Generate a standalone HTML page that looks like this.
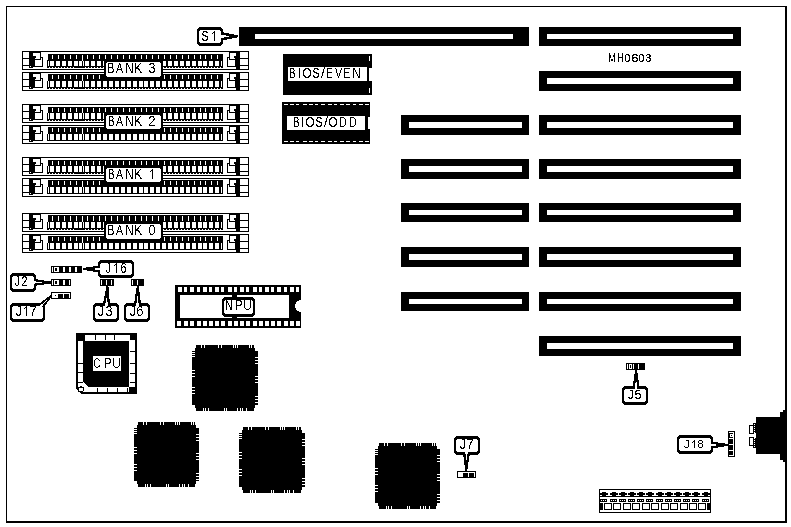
<!DOCTYPE html>
<html><head><meta charset="utf-8"><style>
html,body{margin:0;padding:0;background:#fff;}
body{width:791px;height:527px;overflow:hidden;}
svg{display:block;}
text{font-family:"Liberation Sans",sans-serif;fill:#000;-webkit-font-smoothing:antialiased;}
svg{will-change:transform;}
</style></head><body>
<svg width="791" height="527" viewBox="0 0 791 527" shape-rendering="crispEdges">
<defs><filter id="th" x="-20%" y="-20%" width="140%" height="140%"><feComponentTransfer><feFuncA type="discrete" tableValues="0 1"/></feComponentTransfer></filter><filter id="th2" x="-20%" y="-20%" width="140%" height="140%"><feComponentTransfer><feFuncA type="discrete" tableValues="0 1 1"/></feComponentTransfer></filter></defs>
<rect x="0" y="0" width="791" height="527" fill="#fff"/>
<rect x="6" y="6" width="781" height="1"/>
<rect x="6" y="6" width="1" height="517"/>
<rect x="785" y="6" width="2" height="517"/>
<rect x="6" y="521" width="781" height="2"/>
<rect x="539" y="27" width="202" height="19"/>
<rect x="547" y="34" width="186" height="5" fill="#fff"/>
<rect x="539" y="71" width="202" height="20"/>
<rect x="547" y="78" width="186" height="6" fill="#fff"/>
<rect x="539" y="115" width="202" height="20"/>
<rect x="547" y="122" width="186" height="6" fill="#fff"/>
<rect x="401" y="115" width="128" height="20"/>
<rect x="409" y="122" width="113" height="6" fill="#fff"/>
<rect x="539" y="159" width="202" height="20"/>
<rect x="547" y="166" width="186" height="6" fill="#fff"/>
<rect x="401" y="159" width="128" height="20"/>
<rect x="409" y="166" width="113" height="6" fill="#fff"/>
<rect x="539" y="203" width="202" height="19"/>
<rect x="547" y="210" width="186" height="5" fill="#fff"/>
<rect x="401" y="203" width="128" height="19"/>
<rect x="409" y="210" width="113" height="5" fill="#fff"/>
<rect x="539" y="247" width="202" height="20"/>
<rect x="547" y="254" width="186" height="6" fill="#fff"/>
<rect x="401" y="247" width="128" height="20"/>
<rect x="409" y="254" width="113" height="6" fill="#fff"/>
<rect x="539" y="292" width="202" height="19"/>
<rect x="547" y="299" width="186" height="5" fill="#fff"/>
<rect x="401" y="292" width="128" height="19"/>
<rect x="409" y="299" width="113" height="5" fill="#fff"/>
<rect x="539" y="336" width="202" height="20"/>
<rect x="547" y="343" width="186" height="6" fill="#fff"/>
<rect x="239" y="27" width="290" height="19"/>
<rect x="255" y="34" width="258" height="5" fill="#fff"/>
<text transform="translate(608.26,62) scale(0.686,1)" font-size="13.08" filter="url(#th)">M</text>
<text transform="translate(617.27,62) scale(0.684,1)" font-size="13.08" filter="url(#th)">H</text>
<text transform="translate(624.59,62) scale(1.043,1)" font-size="10.03" filter="url(#th2)">0</text>
<text transform="translate(631.34,62) scale(1.298,1)" font-size="10.03" filter="url(#th2)">6</text>
<text transform="translate(638.59,62) scale(1.043,1)" font-size="10.03" filter="url(#th2)">0</text>
<text transform="translate(645.60,62) scale(1.052,1)" font-size="10.03" filter="url(#th2)">3</text>
<rect x="283" y="54" width="89" height="41"/>
<rect x="288" y="67" width="79" height="14" fill="#fff"/>
<rect x="369" y="68" width="3" height="13" fill="#fff"/>
<rect x="369" y="56" width="1" height="5" fill="#fff"/>
<rect x="369" y="88" width="1" height="5" fill="#fff"/>
<text transform="translate(289.23,78) scale(0.647,1)" font-size="14.53" filter="url(#th)">B</text>
<text transform="translate(298.02,78) scale(0.732,1)" font-size="14.53" filter="url(#th)">I</text>
<text transform="translate(302.45,78) scale(0.818,1)" font-size="14.33" filter="url(#th)">O</text>
<text transform="translate(312.52,78) scale(0.728,1)" font-size="14.33" filter="url(#th)">S</text>
<text transform="translate(321.00,78) scale(0.990,1)" font-size="14.53" filter="url(#th)">/</text>
<text transform="translate(326.24,78) scale(0.635,1)" font-size="14.53" filter="url(#th)">E</text>
<text transform="translate(334.95,78) scale(0.733,1)" font-size="14.53" filter="url(#th)">V</text>
<text transform="translate(343.09,78) scale(0.762,1)" font-size="14.53" filter="url(#th)">E</text>
<text transform="translate(351.97,78) scale(0.862,1)" font-size="14.53" filter="url(#th)">N</text>
<rect x="282" y="102" width="88" height="42"/>
<rect x="287" y="116" width="78" height="14" fill="#fff"/>
<rect x="368" y="117" width="2" height="12" fill="#fff"/>
<rect x="284" y="104" width="4" height="1" fill="#fff"/>
<rect x="284" y="141" width="4" height="1" fill="#fff"/>
<rect x="290" y="104" width="4" height="1" fill="#fff"/>
<rect x="290" y="141" width="4" height="1" fill="#fff"/>
<rect x="296" y="104" width="3" height="1" fill="#fff"/>
<rect x="296" y="141" width="3" height="1" fill="#fff"/>
<rect x="303" y="104" width="4" height="1" fill="#fff"/>
<rect x="303" y="141" width="4" height="1" fill="#fff"/>
<rect x="309" y="104" width="4" height="1" fill="#fff"/>
<rect x="309" y="141" width="4" height="1" fill="#fff"/>
<rect x="315" y="104" width="3" height="1" fill="#fff"/>
<rect x="315" y="141" width="3" height="1" fill="#fff"/>
<rect x="321" y="104" width="4" height="1" fill="#fff"/>
<rect x="321" y="141" width="4" height="1" fill="#fff"/>
<rect x="328" y="104" width="4" height="1" fill="#fff"/>
<rect x="328" y="141" width="4" height="1" fill="#fff"/>
<rect x="334" y="104" width="3" height="1" fill="#fff"/>
<rect x="334" y="141" width="3" height="1" fill="#fff"/>
<rect x="340" y="104" width="4" height="1" fill="#fff"/>
<rect x="340" y="141" width="4" height="1" fill="#fff"/>
<rect x="346" y="104" width="4" height="1" fill="#fff"/>
<rect x="346" y="141" width="4" height="1" fill="#fff"/>
<rect x="353" y="104" width="3" height="1" fill="#fff"/>
<rect x="353" y="141" width="3" height="1" fill="#fff"/>
<rect x="359" y="104" width="4" height="1" fill="#fff"/>
<rect x="359" y="141" width="4" height="1" fill="#fff"/>
<rect x="365" y="104" width="4" height="1" fill="#fff"/>
<rect x="365" y="141" width="4" height="1" fill="#fff"/>
<text transform="translate(293.23,127) scale(0.647,1)" font-size="14.53" filter="url(#th)">B</text>
<text transform="translate(301.02,127) scale(0.732,1)" font-size="14.53" filter="url(#th)">I</text>
<text transform="translate(305.45,127) scale(0.818,1)" font-size="14.33" filter="url(#th)">O</text>
<text transform="translate(315.52,127) scale(0.728,1)" font-size="14.33" filter="url(#th)">S</text>
<text transform="translate(324.00,127) scale(0.990,1)" font-size="14.53" filter="url(#th)">/</text>
<text transform="translate(328.45,127) scale(0.818,1)" font-size="14.33" filter="url(#th)">O</text>
<text transform="translate(339.17,127) scale(0.697,1)" font-size="14.53" filter="url(#th)">D</text>
<text transform="translate(349.17,127) scale(0.697,1)" font-size="14.53" filter="url(#th)">D</text>
<rect x="22" y="51" width="227" height="1"/>
<rect x="22" y="69" width="227" height="1"/>
<rect x="22" y="51" width="1" height="19"/>
<rect x="248" y="51" width="1" height="19"/>
<rect x="23" y="58" width="6" height="1"/>
<rect x="23" y="65" width="6" height="1"/>
<rect x="29" y="52" width="4" height="16"/>
<rect x="30" y="66" width="1" height="1" fill="#fff"/>
<rect x="30" y="68" width="3" height="1" fill="#fff"/>
<rect x="33" y="52" width="8" height="1"/>
<rect x="40" y="52" width="1" height="8"/>
<rect x="33" y="56" width="2" height="11"/>
<rect x="35" y="56" width="1" height="2"/>
<rect x="35" y="59" width="6" height="1"/>
<rect x="40" y="57" width="3" height="1"/>
<rect x="42" y="57" width="1" height="10"/>
<rect x="33" y="66" width="10" height="1"/>
<rect x="30" y="67" width="3" height="1"/>
<rect x="240" y="58" width="8" height="1"/>
<rect x="240" y="65" width="8" height="1"/>
<rect x="236" y="52" width="4" height="17"/>
<rect x="229" y="52" width="7" height="1"/>
<rect x="229" y="52" width="1" height="8"/>
<rect x="234" y="56" width="2" height="2"/>
<rect x="227" y="57" width="3" height="1"/>
<rect x="227" y="57" width="1" height="10"/>
<rect x="229" y="59" width="6" height="1"/>
<rect x="235" y="58" width="1" height="9"/>
<rect x="227" y="66" width="9" height="1"/>
<rect x="48" y="54" width="175" height="6"/>
<rect x="47" y="60" width="176" height="8"/>
<rect x="48" y="61" width="1" height="5" fill="#fff"/>
<rect x="221" y="61" width="1" height="5" fill="#fff"/>
<rect x="50" y="61" width="4" height="5" fill="#fff"/>
<rect x="52" y="55" width="1" height="4" fill="#fff"/>
<rect x="56" y="61" width="4" height="5" fill="#fff"/>
<rect x="58" y="55" width="1" height="4" fill="#fff"/>
<rect x="62" y="61" width="4" height="5" fill="#fff"/>
<rect x="64" y="55" width="1" height="4" fill="#fff"/>
<rect x="68" y="61" width="4" height="5" fill="#fff"/>
<rect x="70" y="55" width="1" height="4" fill="#fff"/>
<rect x="74" y="61" width="4" height="5" fill="#fff"/>
<rect x="76" y="55" width="1" height="4" fill="#fff"/>
<rect x="80" y="61" width="4" height="5" fill="#fff"/>
<rect x="82" y="55" width="1" height="4" fill="#fff"/>
<rect x="85" y="61" width="4" height="5" fill="#fff"/>
<rect x="87" y="55" width="1" height="4" fill="#fff"/>
<rect x="91" y="61" width="4" height="5" fill="#fff"/>
<rect x="93" y="55" width="1" height="4" fill="#fff"/>
<rect x="97" y="61" width="4" height="5" fill="#fff"/>
<rect x="99" y="55" width="1" height="4" fill="#fff"/>
<rect x="103" y="61" width="4" height="5" fill="#fff"/>
<rect x="105" y="55" width="1" height="4" fill="#fff"/>
<rect x="109" y="61" width="4" height="5" fill="#fff"/>
<rect x="111" y="55" width="1" height="4" fill="#fff"/>
<rect x="115" y="61" width="4" height="5" fill="#fff"/>
<rect x="117" y="55" width="1" height="4" fill="#fff"/>
<rect x="121" y="61" width="4" height="5" fill="#fff"/>
<rect x="123" y="55" width="1" height="4" fill="#fff"/>
<rect x="127" y="61" width="4" height="5" fill="#fff"/>
<rect x="129" y="55" width="1" height="4" fill="#fff"/>
<rect x="133" y="61" width="4" height="5" fill="#fff"/>
<rect x="135" y="55" width="1" height="4" fill="#fff"/>
<rect x="139" y="61" width="4" height="5" fill="#fff"/>
<rect x="141" y="55" width="1" height="4" fill="#fff"/>
<rect x="144" y="61" width="4" height="5" fill="#fff"/>
<rect x="146" y="55" width="1" height="4" fill="#fff"/>
<rect x="150" y="61" width="4" height="5" fill="#fff"/>
<rect x="152" y="55" width="1" height="4" fill="#fff"/>
<rect x="156" y="61" width="4" height="5" fill="#fff"/>
<rect x="158" y="55" width="1" height="4" fill="#fff"/>
<rect x="162" y="61" width="4" height="5" fill="#fff"/>
<rect x="164" y="55" width="1" height="4" fill="#fff"/>
<rect x="168" y="61" width="4" height="5" fill="#fff"/>
<rect x="170" y="55" width="1" height="4" fill="#fff"/>
<rect x="174" y="61" width="4" height="5" fill="#fff"/>
<rect x="176" y="55" width="1" height="4" fill="#fff"/>
<rect x="180" y="61" width="4" height="5" fill="#fff"/>
<rect x="182" y="55" width="1" height="4" fill="#fff"/>
<rect x="186" y="61" width="4" height="5" fill="#fff"/>
<rect x="188" y="55" width="1" height="4" fill="#fff"/>
<rect x="192" y="61" width="4" height="5" fill="#fff"/>
<rect x="194" y="55" width="1" height="4" fill="#fff"/>
<rect x="198" y="61" width="4" height="5" fill="#fff"/>
<rect x="200" y="55" width="1" height="4" fill="#fff"/>
<rect x="203" y="61" width="4" height="5" fill="#fff"/>
<rect x="205" y="55" width="1" height="4" fill="#fff"/>
<rect x="209" y="61" width="4" height="5" fill="#fff"/>
<rect x="211" y="55" width="1" height="4" fill="#fff"/>
<rect x="215" y="61" width="4" height="5" fill="#fff"/>
<rect x="217" y="55" width="1" height="4" fill="#fff"/>
<rect x="49" y="67" width="1" height="1" fill="#fff"/>
<rect x="52" y="67" width="1" height="1" fill="#fff"/>
<rect x="55" y="67" width="1" height="1" fill="#fff"/>
<rect x="58" y="67" width="1" height="1" fill="#fff"/>
<rect x="61" y="67" width="1" height="1" fill="#fff"/>
<rect x="64" y="67" width="1" height="1" fill="#fff"/>
<rect x="67" y="67" width="1" height="1" fill="#fff"/>
<rect x="70" y="67" width="1" height="1" fill="#fff"/>
<rect x="73" y="67" width="1" height="1" fill="#fff"/>
<rect x="85" y="67" width="1" height="1" fill="#fff"/>
<rect x="88" y="67" width="1" height="1" fill="#fff"/>
<rect x="91" y="67" width="1" height="1" fill="#fff"/>
<rect x="94" y="67" width="1" height="1" fill="#fff"/>
<rect x="97" y="67" width="1" height="1" fill="#fff"/>
<rect x="100" y="67" width="1" height="1" fill="#fff"/>
<rect x="103" y="67" width="1" height="1" fill="#fff"/>
<rect x="106" y="67" width="1" height="1" fill="#fff"/>
<rect x="109" y="67" width="1" height="1" fill="#fff"/>
<rect x="112" y="67" width="1" height="1" fill="#fff"/>
<rect x="115" y="67" width="1" height="1" fill="#fff"/>
<rect x="118" y="67" width="1" height="1" fill="#fff"/>
<rect x="121" y="67" width="1" height="1" fill="#fff"/>
<rect x="124" y="67" width="1" height="1" fill="#fff"/>
<rect x="127" y="67" width="1" height="1" fill="#fff"/>
<rect x="130" y="67" width="1" height="1" fill="#fff"/>
<rect x="133" y="67" width="1" height="1" fill="#fff"/>
<rect x="136" y="67" width="1" height="1" fill="#fff"/>
<rect x="139" y="67" width="1" height="1" fill="#fff"/>
<rect x="142" y="67" width="1" height="1" fill="#fff"/>
<rect x="145" y="67" width="1" height="1" fill="#fff"/>
<rect x="148" y="67" width="1" height="1" fill="#fff"/>
<rect x="151" y="67" width="1" height="1" fill="#fff"/>
<rect x="154" y="67" width="1" height="1" fill="#fff"/>
<rect x="157" y="67" width="1" height="1" fill="#fff"/>
<rect x="160" y="67" width="1" height="1" fill="#fff"/>
<rect x="163" y="67" width="1" height="1" fill="#fff"/>
<rect x="166" y="67" width="1" height="1" fill="#fff"/>
<rect x="169" y="67" width="1" height="1" fill="#fff"/>
<rect x="172" y="67" width="1" height="1" fill="#fff"/>
<rect x="175" y="67" width="1" height="1" fill="#fff"/>
<rect x="178" y="67" width="1" height="1" fill="#fff"/>
<rect x="181" y="67" width="1" height="1" fill="#fff"/>
<rect x="184" y="67" width="1" height="1" fill="#fff"/>
<rect x="187" y="67" width="1" height="1" fill="#fff"/>
<rect x="190" y="67" width="1" height="1" fill="#fff"/>
<rect x="193" y="67" width="1" height="1" fill="#fff"/>
<rect x="196" y="67" width="1" height="1" fill="#fff"/>
<rect x="199" y="67" width="1" height="1" fill="#fff"/>
<rect x="202" y="67" width="1" height="1" fill="#fff"/>
<rect x="205" y="67" width="1" height="1" fill="#fff"/>
<rect x="208" y="67" width="1" height="1" fill="#fff"/>
<rect x="211" y="67" width="1" height="1" fill="#fff"/>
<rect x="214" y="67" width="1" height="1" fill="#fff"/>
<rect x="217" y="67" width="1" height="1" fill="#fff"/>
<rect x="220" y="67" width="1" height="1" fill="#fff"/>
<rect x="82" y="55" width="1" height="6" fill="#fff"/>
<rect x="82" y="61" width="1" height="6"/>
<rect x="79" y="61" width="1" height="5" fill="#fff"/>
<rect x="22" y="72" width="227" height="1"/>
<rect x="22" y="90" width="227" height="1"/>
<rect x="22" y="72" width="1" height="19"/>
<rect x="248" y="72" width="1" height="19"/>
<rect x="23" y="79" width="6" height="1"/>
<rect x="23" y="86" width="6" height="1"/>
<rect x="29" y="73" width="4" height="16"/>
<rect x="30" y="87" width="1" height="1" fill="#fff"/>
<rect x="30" y="89" width="3" height="1" fill="#fff"/>
<rect x="33" y="73" width="8" height="1"/>
<rect x="40" y="73" width="1" height="8"/>
<rect x="33" y="77" width="2" height="11"/>
<rect x="35" y="77" width="1" height="2"/>
<rect x="35" y="80" width="6" height="1"/>
<rect x="40" y="78" width="3" height="1"/>
<rect x="42" y="78" width="1" height="10"/>
<rect x="33" y="87" width="10" height="1"/>
<rect x="30" y="88" width="3" height="1"/>
<rect x="240" y="79" width="8" height="1"/>
<rect x="240" y="86" width="8" height="1"/>
<rect x="236" y="73" width="4" height="17"/>
<rect x="229" y="73" width="7" height="1"/>
<rect x="229" y="73" width="1" height="8"/>
<rect x="234" y="77" width="2" height="2"/>
<rect x="227" y="78" width="3" height="1"/>
<rect x="227" y="78" width="1" height="10"/>
<rect x="229" y="80" width="6" height="1"/>
<rect x="235" y="79" width="1" height="9"/>
<rect x="227" y="87" width="9" height="1"/>
<rect x="48" y="74" width="175" height="7"/>
<rect x="47" y="81" width="176" height="8"/>
<rect x="48" y="81" width="1" height="6" fill="#fff"/>
<rect x="221" y="81" width="1" height="6" fill="#fff"/>
<rect x="50" y="81" width="4" height="6" fill="#fff"/>
<rect x="52" y="75" width="1" height="4" fill="#fff"/>
<rect x="56" y="81" width="4" height="6" fill="#fff"/>
<rect x="58" y="75" width="1" height="4" fill="#fff"/>
<rect x="62" y="81" width="4" height="6" fill="#fff"/>
<rect x="64" y="75" width="1" height="4" fill="#fff"/>
<rect x="68" y="81" width="4" height="6" fill="#fff"/>
<rect x="70" y="75" width="1" height="4" fill="#fff"/>
<rect x="74" y="81" width="4" height="6" fill="#fff"/>
<rect x="76" y="75" width="1" height="4" fill="#fff"/>
<rect x="80" y="81" width="4" height="6" fill="#fff"/>
<rect x="82" y="75" width="1" height="4" fill="#fff"/>
<rect x="85" y="81" width="4" height="6" fill="#fff"/>
<rect x="87" y="75" width="1" height="4" fill="#fff"/>
<rect x="91" y="81" width="4" height="6" fill="#fff"/>
<rect x="93" y="75" width="1" height="4" fill="#fff"/>
<rect x="97" y="81" width="4" height="6" fill="#fff"/>
<rect x="99" y="75" width="1" height="4" fill="#fff"/>
<rect x="103" y="81" width="4" height="6" fill="#fff"/>
<rect x="105" y="75" width="1" height="4" fill="#fff"/>
<rect x="109" y="81" width="4" height="6" fill="#fff"/>
<rect x="111" y="75" width="1" height="4" fill="#fff"/>
<rect x="115" y="81" width="4" height="6" fill="#fff"/>
<rect x="117" y="75" width="1" height="4" fill="#fff"/>
<rect x="121" y="81" width="4" height="6" fill="#fff"/>
<rect x="123" y="75" width="1" height="4" fill="#fff"/>
<rect x="127" y="81" width="4" height="6" fill="#fff"/>
<rect x="129" y="75" width="1" height="4" fill="#fff"/>
<rect x="133" y="81" width="4" height="6" fill="#fff"/>
<rect x="135" y="75" width="1" height="4" fill="#fff"/>
<rect x="139" y="81" width="4" height="6" fill="#fff"/>
<rect x="141" y="75" width="1" height="4" fill="#fff"/>
<rect x="144" y="81" width="4" height="6" fill="#fff"/>
<rect x="146" y="75" width="1" height="4" fill="#fff"/>
<rect x="150" y="81" width="4" height="6" fill="#fff"/>
<rect x="152" y="75" width="1" height="4" fill="#fff"/>
<rect x="156" y="81" width="4" height="6" fill="#fff"/>
<rect x="158" y="75" width="1" height="4" fill="#fff"/>
<rect x="162" y="81" width="4" height="6" fill="#fff"/>
<rect x="164" y="75" width="1" height="4" fill="#fff"/>
<rect x="168" y="81" width="4" height="6" fill="#fff"/>
<rect x="170" y="75" width="1" height="4" fill="#fff"/>
<rect x="174" y="81" width="4" height="6" fill="#fff"/>
<rect x="176" y="75" width="1" height="4" fill="#fff"/>
<rect x="180" y="81" width="4" height="6" fill="#fff"/>
<rect x="182" y="75" width="1" height="4" fill="#fff"/>
<rect x="186" y="81" width="4" height="6" fill="#fff"/>
<rect x="188" y="75" width="1" height="4" fill="#fff"/>
<rect x="192" y="81" width="4" height="6" fill="#fff"/>
<rect x="194" y="75" width="1" height="4" fill="#fff"/>
<rect x="198" y="81" width="4" height="6" fill="#fff"/>
<rect x="200" y="75" width="1" height="4" fill="#fff"/>
<rect x="203" y="81" width="4" height="6" fill="#fff"/>
<rect x="205" y="75" width="1" height="4" fill="#fff"/>
<rect x="209" y="81" width="4" height="6" fill="#fff"/>
<rect x="211" y="75" width="1" height="4" fill="#fff"/>
<rect x="215" y="81" width="4" height="6" fill="#fff"/>
<rect x="217" y="75" width="1" height="4" fill="#fff"/>
<rect x="49" y="88" width="1" height="1" fill="#fff"/>
<rect x="52" y="88" width="1" height="1" fill="#fff"/>
<rect x="55" y="88" width="1" height="1" fill="#fff"/>
<rect x="58" y="88" width="1" height="1" fill="#fff"/>
<rect x="61" y="88" width="1" height="1" fill="#fff"/>
<rect x="64" y="88" width="1" height="1" fill="#fff"/>
<rect x="67" y="88" width="1" height="1" fill="#fff"/>
<rect x="70" y="88" width="1" height="1" fill="#fff"/>
<rect x="73" y="88" width="1" height="1" fill="#fff"/>
<rect x="85" y="88" width="1" height="1" fill="#fff"/>
<rect x="88" y="88" width="1" height="1" fill="#fff"/>
<rect x="91" y="88" width="1" height="1" fill="#fff"/>
<rect x="94" y="88" width="1" height="1" fill="#fff"/>
<rect x="97" y="88" width="1" height="1" fill="#fff"/>
<rect x="100" y="88" width="1" height="1" fill="#fff"/>
<rect x="103" y="88" width="1" height="1" fill="#fff"/>
<rect x="106" y="88" width="1" height="1" fill="#fff"/>
<rect x="109" y="88" width="1" height="1" fill="#fff"/>
<rect x="112" y="88" width="1" height="1" fill="#fff"/>
<rect x="115" y="88" width="1" height="1" fill="#fff"/>
<rect x="118" y="88" width="1" height="1" fill="#fff"/>
<rect x="121" y="88" width="1" height="1" fill="#fff"/>
<rect x="124" y="88" width="1" height="1" fill="#fff"/>
<rect x="127" y="88" width="1" height="1" fill="#fff"/>
<rect x="130" y="88" width="1" height="1" fill="#fff"/>
<rect x="133" y="88" width="1" height="1" fill="#fff"/>
<rect x="136" y="88" width="1" height="1" fill="#fff"/>
<rect x="139" y="88" width="1" height="1" fill="#fff"/>
<rect x="142" y="88" width="1" height="1" fill="#fff"/>
<rect x="145" y="88" width="1" height="1" fill="#fff"/>
<rect x="148" y="88" width="1" height="1" fill="#fff"/>
<rect x="151" y="88" width="1" height="1" fill="#fff"/>
<rect x="154" y="88" width="1" height="1" fill="#fff"/>
<rect x="157" y="88" width="1" height="1" fill="#fff"/>
<rect x="160" y="88" width="1" height="1" fill="#fff"/>
<rect x="163" y="88" width="1" height="1" fill="#fff"/>
<rect x="166" y="88" width="1" height="1" fill="#fff"/>
<rect x="169" y="88" width="1" height="1" fill="#fff"/>
<rect x="172" y="88" width="1" height="1" fill="#fff"/>
<rect x="175" y="88" width="1" height="1" fill="#fff"/>
<rect x="178" y="88" width="1" height="1" fill="#fff"/>
<rect x="181" y="88" width="1" height="1" fill="#fff"/>
<rect x="184" y="88" width="1" height="1" fill="#fff"/>
<rect x="187" y="88" width="1" height="1" fill="#fff"/>
<rect x="190" y="88" width="1" height="1" fill="#fff"/>
<rect x="193" y="88" width="1" height="1" fill="#fff"/>
<rect x="196" y="88" width="1" height="1" fill="#fff"/>
<rect x="199" y="88" width="1" height="1" fill="#fff"/>
<rect x="202" y="88" width="1" height="1" fill="#fff"/>
<rect x="205" y="88" width="1" height="1" fill="#fff"/>
<rect x="208" y="88" width="1" height="1" fill="#fff"/>
<rect x="211" y="88" width="1" height="1" fill="#fff"/>
<rect x="214" y="88" width="1" height="1" fill="#fff"/>
<rect x="217" y="88" width="1" height="1" fill="#fff"/>
<rect x="220" y="88" width="1" height="1" fill="#fff"/>
<rect x="82" y="75" width="1" height="6" fill="#fff"/>
<rect x="82" y="81" width="1" height="7"/>
<rect x="79" y="81" width="1" height="6" fill="#fff"/>
<rect x="104" y="60" width="59" height="19"/>
<rect x="106" y="62" width="55" height="15" fill="#fff"/>
<rect x="106" y="62" width="1" height="1"/>
<rect x="160" y="62" width="1" height="1"/>
<rect x="106" y="76" width="1" height="1"/>
<rect x="160" y="76" width="1" height="1"/>
<text transform="translate(107.08,73) scale(0.776,1)" font-size="14.53" filter="url(#th)">B</text>
<text transform="translate(115.98,73) scale(0.726,1)" font-size="14.53" filter="url(#th)">A</text>
<text transform="translate(124.97,73) scale(0.862,1)" font-size="14.53" filter="url(#th)">N</text>
<text transform="translate(134.00,73) scale(0.840,1)" font-size="14.53" filter="url(#th)">K</text>
<text transform="translate(148.52,73) scale(0.884,1)" font-size="14.33" filter="url(#th)">3</text>
<rect x="22" y="104" width="227" height="1"/>
<rect x="22" y="122" width="227" height="1"/>
<rect x="22" y="104" width="1" height="19"/>
<rect x="248" y="104" width="1" height="19"/>
<rect x="23" y="111" width="6" height="1"/>
<rect x="23" y="118" width="6" height="1"/>
<rect x="29" y="105" width="4" height="16"/>
<rect x="30" y="119" width="1" height="1" fill="#fff"/>
<rect x="30" y="121" width="3" height="1" fill="#fff"/>
<rect x="33" y="105" width="8" height="1"/>
<rect x="40" y="105" width="1" height="8"/>
<rect x="33" y="109" width="2" height="11"/>
<rect x="35" y="109" width="1" height="2"/>
<rect x="35" y="112" width="6" height="1"/>
<rect x="40" y="110" width="3" height="1"/>
<rect x="42" y="110" width="1" height="10"/>
<rect x="33" y="119" width="10" height="1"/>
<rect x="30" y="120" width="3" height="1"/>
<rect x="240" y="111" width="8" height="1"/>
<rect x="240" y="118" width="8" height="1"/>
<rect x="236" y="105" width="4" height="17"/>
<rect x="229" y="105" width="7" height="1"/>
<rect x="229" y="105" width="1" height="8"/>
<rect x="234" y="109" width="2" height="2"/>
<rect x="227" y="110" width="3" height="1"/>
<rect x="227" y="110" width="1" height="10"/>
<rect x="229" y="112" width="6" height="1"/>
<rect x="235" y="111" width="1" height="9"/>
<rect x="227" y="119" width="9" height="1"/>
<rect x="48" y="107" width="175" height="6"/>
<rect x="47" y="113" width="176" height="8"/>
<rect x="48" y="113" width="1" height="6" fill="#fff"/>
<rect x="221" y="113" width="1" height="6" fill="#fff"/>
<rect x="50" y="113" width="4" height="6" fill="#fff"/>
<rect x="52" y="108" width="1" height="4" fill="#fff"/>
<rect x="56" y="113" width="4" height="6" fill="#fff"/>
<rect x="58" y="108" width="1" height="4" fill="#fff"/>
<rect x="62" y="113" width="4" height="6" fill="#fff"/>
<rect x="64" y="108" width="1" height="4" fill="#fff"/>
<rect x="68" y="113" width="4" height="6" fill="#fff"/>
<rect x="70" y="108" width="1" height="4" fill="#fff"/>
<rect x="74" y="113" width="4" height="6" fill="#fff"/>
<rect x="76" y="108" width="1" height="4" fill="#fff"/>
<rect x="80" y="113" width="4" height="6" fill="#fff"/>
<rect x="82" y="108" width="1" height="4" fill="#fff"/>
<rect x="85" y="113" width="4" height="6" fill="#fff"/>
<rect x="87" y="108" width="1" height="4" fill="#fff"/>
<rect x="91" y="113" width="4" height="6" fill="#fff"/>
<rect x="93" y="108" width="1" height="4" fill="#fff"/>
<rect x="97" y="113" width="4" height="6" fill="#fff"/>
<rect x="99" y="108" width="1" height="4" fill="#fff"/>
<rect x="103" y="113" width="4" height="6" fill="#fff"/>
<rect x="105" y="108" width="1" height="4" fill="#fff"/>
<rect x="109" y="113" width="4" height="6" fill="#fff"/>
<rect x="111" y="108" width="1" height="4" fill="#fff"/>
<rect x="115" y="113" width="4" height="6" fill="#fff"/>
<rect x="117" y="108" width="1" height="4" fill="#fff"/>
<rect x="121" y="113" width="4" height="6" fill="#fff"/>
<rect x="123" y="108" width="1" height="4" fill="#fff"/>
<rect x="127" y="113" width="4" height="6" fill="#fff"/>
<rect x="129" y="108" width="1" height="4" fill="#fff"/>
<rect x="133" y="113" width="4" height="6" fill="#fff"/>
<rect x="135" y="108" width="1" height="4" fill="#fff"/>
<rect x="139" y="113" width="4" height="6" fill="#fff"/>
<rect x="141" y="108" width="1" height="4" fill="#fff"/>
<rect x="144" y="113" width="4" height="6" fill="#fff"/>
<rect x="146" y="108" width="1" height="4" fill="#fff"/>
<rect x="150" y="113" width="4" height="6" fill="#fff"/>
<rect x="152" y="108" width="1" height="4" fill="#fff"/>
<rect x="156" y="113" width="4" height="6" fill="#fff"/>
<rect x="158" y="108" width="1" height="4" fill="#fff"/>
<rect x="162" y="113" width="4" height="6" fill="#fff"/>
<rect x="164" y="108" width="1" height="4" fill="#fff"/>
<rect x="168" y="113" width="4" height="6" fill="#fff"/>
<rect x="170" y="108" width="1" height="4" fill="#fff"/>
<rect x="174" y="113" width="4" height="6" fill="#fff"/>
<rect x="176" y="108" width="1" height="4" fill="#fff"/>
<rect x="180" y="113" width="4" height="6" fill="#fff"/>
<rect x="182" y="108" width="1" height="4" fill="#fff"/>
<rect x="186" y="113" width="4" height="6" fill="#fff"/>
<rect x="188" y="108" width="1" height="4" fill="#fff"/>
<rect x="192" y="113" width="4" height="6" fill="#fff"/>
<rect x="194" y="108" width="1" height="4" fill="#fff"/>
<rect x="198" y="113" width="4" height="6" fill="#fff"/>
<rect x="200" y="108" width="1" height="4" fill="#fff"/>
<rect x="203" y="113" width="4" height="6" fill="#fff"/>
<rect x="205" y="108" width="1" height="4" fill="#fff"/>
<rect x="209" y="113" width="4" height="6" fill="#fff"/>
<rect x="211" y="108" width="1" height="4" fill="#fff"/>
<rect x="215" y="113" width="4" height="6" fill="#fff"/>
<rect x="217" y="108" width="1" height="4" fill="#fff"/>
<rect x="49" y="120" width="1" height="1" fill="#fff"/>
<rect x="52" y="120" width="1" height="1" fill="#fff"/>
<rect x="55" y="120" width="1" height="1" fill="#fff"/>
<rect x="58" y="120" width="1" height="1" fill="#fff"/>
<rect x="61" y="120" width="1" height="1" fill="#fff"/>
<rect x="64" y="120" width="1" height="1" fill="#fff"/>
<rect x="67" y="120" width="1" height="1" fill="#fff"/>
<rect x="70" y="120" width="1" height="1" fill="#fff"/>
<rect x="73" y="120" width="1" height="1" fill="#fff"/>
<rect x="85" y="120" width="1" height="1" fill="#fff"/>
<rect x="88" y="120" width="1" height="1" fill="#fff"/>
<rect x="91" y="120" width="1" height="1" fill="#fff"/>
<rect x="94" y="120" width="1" height="1" fill="#fff"/>
<rect x="97" y="120" width="1" height="1" fill="#fff"/>
<rect x="100" y="120" width="1" height="1" fill="#fff"/>
<rect x="103" y="120" width="1" height="1" fill="#fff"/>
<rect x="106" y="120" width="1" height="1" fill="#fff"/>
<rect x="109" y="120" width="1" height="1" fill="#fff"/>
<rect x="112" y="120" width="1" height="1" fill="#fff"/>
<rect x="115" y="120" width="1" height="1" fill="#fff"/>
<rect x="118" y="120" width="1" height="1" fill="#fff"/>
<rect x="121" y="120" width="1" height="1" fill="#fff"/>
<rect x="124" y="120" width="1" height="1" fill="#fff"/>
<rect x="127" y="120" width="1" height="1" fill="#fff"/>
<rect x="130" y="120" width="1" height="1" fill="#fff"/>
<rect x="133" y="120" width="1" height="1" fill="#fff"/>
<rect x="136" y="120" width="1" height="1" fill="#fff"/>
<rect x="139" y="120" width="1" height="1" fill="#fff"/>
<rect x="142" y="120" width="1" height="1" fill="#fff"/>
<rect x="145" y="120" width="1" height="1" fill="#fff"/>
<rect x="148" y="120" width="1" height="1" fill="#fff"/>
<rect x="151" y="120" width="1" height="1" fill="#fff"/>
<rect x="154" y="120" width="1" height="1" fill="#fff"/>
<rect x="157" y="120" width="1" height="1" fill="#fff"/>
<rect x="160" y="120" width="1" height="1" fill="#fff"/>
<rect x="163" y="120" width="1" height="1" fill="#fff"/>
<rect x="166" y="120" width="1" height="1" fill="#fff"/>
<rect x="169" y="120" width="1" height="1" fill="#fff"/>
<rect x="172" y="120" width="1" height="1" fill="#fff"/>
<rect x="175" y="120" width="1" height="1" fill="#fff"/>
<rect x="178" y="120" width="1" height="1" fill="#fff"/>
<rect x="181" y="120" width="1" height="1" fill="#fff"/>
<rect x="184" y="120" width="1" height="1" fill="#fff"/>
<rect x="187" y="120" width="1" height="1" fill="#fff"/>
<rect x="190" y="120" width="1" height="1" fill="#fff"/>
<rect x="193" y="120" width="1" height="1" fill="#fff"/>
<rect x="196" y="120" width="1" height="1" fill="#fff"/>
<rect x="199" y="120" width="1" height="1" fill="#fff"/>
<rect x="202" y="120" width="1" height="1" fill="#fff"/>
<rect x="205" y="120" width="1" height="1" fill="#fff"/>
<rect x="208" y="120" width="1" height="1" fill="#fff"/>
<rect x="211" y="120" width="1" height="1" fill="#fff"/>
<rect x="214" y="120" width="1" height="1" fill="#fff"/>
<rect x="217" y="120" width="1" height="1" fill="#fff"/>
<rect x="220" y="120" width="1" height="1" fill="#fff"/>
<rect x="82" y="108" width="1" height="5" fill="#fff"/>
<rect x="82" y="113" width="1" height="7"/>
<rect x="79" y="113" width="1" height="6" fill="#fff"/>
<rect x="22" y="125" width="227" height="1"/>
<rect x="22" y="143" width="227" height="1"/>
<rect x="22" y="125" width="1" height="19"/>
<rect x="248" y="125" width="1" height="19"/>
<rect x="23" y="132" width="6" height="1"/>
<rect x="23" y="139" width="6" height="1"/>
<rect x="29" y="126" width="4" height="16"/>
<rect x="30" y="140" width="1" height="1" fill="#fff"/>
<rect x="30" y="142" width="3" height="1" fill="#fff"/>
<rect x="33" y="126" width="8" height="1"/>
<rect x="40" y="126" width="1" height="8"/>
<rect x="33" y="130" width="2" height="11"/>
<rect x="35" y="130" width="1" height="2"/>
<rect x="35" y="133" width="6" height="1"/>
<rect x="40" y="131" width="3" height="1"/>
<rect x="42" y="131" width="1" height="10"/>
<rect x="33" y="140" width="10" height="1"/>
<rect x="30" y="141" width="3" height="1"/>
<rect x="240" y="132" width="8" height="1"/>
<rect x="240" y="139" width="8" height="1"/>
<rect x="236" y="126" width="4" height="17"/>
<rect x="229" y="126" width="7" height="1"/>
<rect x="229" y="126" width="1" height="8"/>
<rect x="234" y="130" width="2" height="2"/>
<rect x="227" y="131" width="3" height="1"/>
<rect x="227" y="131" width="1" height="10"/>
<rect x="229" y="133" width="6" height="1"/>
<rect x="235" y="132" width="1" height="9"/>
<rect x="227" y="140" width="9" height="1"/>
<rect x="48" y="127" width="175" height="7"/>
<rect x="47" y="134" width="176" height="7"/>
<rect x="48" y="134" width="1" height="6" fill="#fff"/>
<rect x="221" y="134" width="1" height="6" fill="#fff"/>
<rect x="50" y="134" width="4" height="6" fill="#fff"/>
<rect x="52" y="128" width="1" height="4" fill="#fff"/>
<rect x="56" y="134" width="4" height="6" fill="#fff"/>
<rect x="58" y="128" width="1" height="4" fill="#fff"/>
<rect x="62" y="134" width="4" height="6" fill="#fff"/>
<rect x="64" y="128" width="1" height="4" fill="#fff"/>
<rect x="68" y="134" width="4" height="6" fill="#fff"/>
<rect x="70" y="128" width="1" height="4" fill="#fff"/>
<rect x="74" y="134" width="4" height="6" fill="#fff"/>
<rect x="76" y="128" width="1" height="4" fill="#fff"/>
<rect x="80" y="134" width="4" height="6" fill="#fff"/>
<rect x="82" y="128" width="1" height="4" fill="#fff"/>
<rect x="85" y="134" width="4" height="6" fill="#fff"/>
<rect x="87" y="128" width="1" height="4" fill="#fff"/>
<rect x="91" y="134" width="4" height="6" fill="#fff"/>
<rect x="93" y="128" width="1" height="4" fill="#fff"/>
<rect x="97" y="134" width="4" height="6" fill="#fff"/>
<rect x="99" y="128" width="1" height="4" fill="#fff"/>
<rect x="103" y="134" width="4" height="6" fill="#fff"/>
<rect x="105" y="128" width="1" height="4" fill="#fff"/>
<rect x="109" y="134" width="4" height="6" fill="#fff"/>
<rect x="111" y="128" width="1" height="4" fill="#fff"/>
<rect x="115" y="134" width="4" height="6" fill="#fff"/>
<rect x="117" y="128" width="1" height="4" fill="#fff"/>
<rect x="121" y="134" width="4" height="6" fill="#fff"/>
<rect x="123" y="128" width="1" height="4" fill="#fff"/>
<rect x="127" y="134" width="4" height="6" fill="#fff"/>
<rect x="129" y="128" width="1" height="4" fill="#fff"/>
<rect x="133" y="134" width="4" height="6" fill="#fff"/>
<rect x="135" y="128" width="1" height="4" fill="#fff"/>
<rect x="139" y="134" width="4" height="6" fill="#fff"/>
<rect x="141" y="128" width="1" height="4" fill="#fff"/>
<rect x="144" y="134" width="4" height="6" fill="#fff"/>
<rect x="146" y="128" width="1" height="4" fill="#fff"/>
<rect x="150" y="134" width="4" height="6" fill="#fff"/>
<rect x="152" y="128" width="1" height="4" fill="#fff"/>
<rect x="156" y="134" width="4" height="6" fill="#fff"/>
<rect x="158" y="128" width="1" height="4" fill="#fff"/>
<rect x="162" y="134" width="4" height="6" fill="#fff"/>
<rect x="164" y="128" width="1" height="4" fill="#fff"/>
<rect x="168" y="134" width="4" height="6" fill="#fff"/>
<rect x="170" y="128" width="1" height="4" fill="#fff"/>
<rect x="174" y="134" width="4" height="6" fill="#fff"/>
<rect x="176" y="128" width="1" height="4" fill="#fff"/>
<rect x="180" y="134" width="4" height="6" fill="#fff"/>
<rect x="182" y="128" width="1" height="4" fill="#fff"/>
<rect x="186" y="134" width="4" height="6" fill="#fff"/>
<rect x="188" y="128" width="1" height="4" fill="#fff"/>
<rect x="192" y="134" width="4" height="6" fill="#fff"/>
<rect x="194" y="128" width="1" height="4" fill="#fff"/>
<rect x="198" y="134" width="4" height="6" fill="#fff"/>
<rect x="200" y="128" width="1" height="4" fill="#fff"/>
<rect x="203" y="134" width="4" height="6" fill="#fff"/>
<rect x="205" y="128" width="1" height="4" fill="#fff"/>
<rect x="209" y="134" width="4" height="6" fill="#fff"/>
<rect x="211" y="128" width="1" height="4" fill="#fff"/>
<rect x="215" y="134" width="4" height="6" fill="#fff"/>
<rect x="217" y="128" width="1" height="4" fill="#fff"/>
<rect x="82" y="128" width="1" height="6" fill="#fff"/>
<rect x="82" y="134" width="1" height="7"/>
<rect x="79" y="134" width="1" height="6" fill="#fff"/>
<rect x="104" y="113" width="59" height="19"/>
<rect x="106" y="115" width="55" height="14" fill="#fff"/>
<rect x="106" y="115" width="1" height="1"/>
<rect x="160" y="115" width="1" height="1"/>
<rect x="106" y="128" width="1" height="1"/>
<rect x="160" y="128" width="1" height="1"/>
<text transform="translate(108.23,126) scale(0.647,1)" font-size="14.53" filter="url(#th)">B</text>
<text transform="translate(115.98,126) scale(0.726,1)" font-size="14.53" filter="url(#th)">A</text>
<text transform="translate(124.97,126) scale(0.862,1)" font-size="14.53" filter="url(#th)">N</text>
<text transform="translate(134.00,126) scale(0.840,1)" font-size="14.53" filter="url(#th)">K</text>
<text transform="translate(148.34,126) scale(0.918,1)" font-size="14.33" filter="url(#th)">2</text>
<rect x="22" y="157" width="227" height="1"/>
<rect x="22" y="175" width="227" height="1"/>
<rect x="22" y="157" width="1" height="19"/>
<rect x="248" y="157" width="1" height="19"/>
<rect x="23" y="164" width="6" height="1"/>
<rect x="23" y="171" width="6" height="1"/>
<rect x="29" y="158" width="4" height="16"/>
<rect x="30" y="172" width="1" height="1" fill="#fff"/>
<rect x="30" y="174" width="3" height="1" fill="#fff"/>
<rect x="33" y="158" width="8" height="1"/>
<rect x="40" y="158" width="1" height="8"/>
<rect x="33" y="162" width="2" height="11"/>
<rect x="35" y="162" width="1" height="2"/>
<rect x="35" y="165" width="6" height="1"/>
<rect x="40" y="163" width="3" height="1"/>
<rect x="42" y="163" width="1" height="10"/>
<rect x="33" y="172" width="10" height="1"/>
<rect x="30" y="173" width="3" height="1"/>
<rect x="240" y="164" width="8" height="1"/>
<rect x="240" y="171" width="8" height="1"/>
<rect x="236" y="158" width="4" height="17"/>
<rect x="229" y="158" width="7" height="1"/>
<rect x="229" y="158" width="1" height="8"/>
<rect x="234" y="162" width="2" height="2"/>
<rect x="227" y="163" width="3" height="1"/>
<rect x="227" y="163" width="1" height="10"/>
<rect x="229" y="165" width="6" height="1"/>
<rect x="235" y="164" width="1" height="9"/>
<rect x="227" y="172" width="9" height="1"/>
<rect x="48" y="160" width="175" height="6"/>
<rect x="47" y="166" width="176" height="8"/>
<rect x="48" y="166" width="1" height="6" fill="#fff"/>
<rect x="221" y="166" width="1" height="6" fill="#fff"/>
<rect x="50" y="166" width="4" height="6" fill="#fff"/>
<rect x="52" y="161" width="1" height="4" fill="#fff"/>
<rect x="56" y="166" width="4" height="6" fill="#fff"/>
<rect x="58" y="161" width="1" height="4" fill="#fff"/>
<rect x="62" y="166" width="4" height="6" fill="#fff"/>
<rect x="64" y="161" width="1" height="4" fill="#fff"/>
<rect x="68" y="166" width="4" height="6" fill="#fff"/>
<rect x="70" y="161" width="1" height="4" fill="#fff"/>
<rect x="74" y="166" width="4" height="6" fill="#fff"/>
<rect x="76" y="161" width="1" height="4" fill="#fff"/>
<rect x="80" y="166" width="4" height="6" fill="#fff"/>
<rect x="82" y="161" width="1" height="4" fill="#fff"/>
<rect x="85" y="166" width="4" height="6" fill="#fff"/>
<rect x="87" y="161" width="1" height="4" fill="#fff"/>
<rect x="91" y="166" width="4" height="6" fill="#fff"/>
<rect x="93" y="161" width="1" height="4" fill="#fff"/>
<rect x="97" y="166" width="4" height="6" fill="#fff"/>
<rect x="99" y="161" width="1" height="4" fill="#fff"/>
<rect x="103" y="166" width="4" height="6" fill="#fff"/>
<rect x="105" y="161" width="1" height="4" fill="#fff"/>
<rect x="109" y="166" width="4" height="6" fill="#fff"/>
<rect x="111" y="161" width="1" height="4" fill="#fff"/>
<rect x="115" y="166" width="4" height="6" fill="#fff"/>
<rect x="117" y="161" width="1" height="4" fill="#fff"/>
<rect x="121" y="166" width="4" height="6" fill="#fff"/>
<rect x="123" y="161" width="1" height="4" fill="#fff"/>
<rect x="127" y="166" width="4" height="6" fill="#fff"/>
<rect x="129" y="161" width="1" height="4" fill="#fff"/>
<rect x="133" y="166" width="4" height="6" fill="#fff"/>
<rect x="135" y="161" width="1" height="4" fill="#fff"/>
<rect x="139" y="166" width="4" height="6" fill="#fff"/>
<rect x="141" y="161" width="1" height="4" fill="#fff"/>
<rect x="144" y="166" width="4" height="6" fill="#fff"/>
<rect x="146" y="161" width="1" height="4" fill="#fff"/>
<rect x="150" y="166" width="4" height="6" fill="#fff"/>
<rect x="152" y="161" width="1" height="4" fill="#fff"/>
<rect x="156" y="166" width="4" height="6" fill="#fff"/>
<rect x="158" y="161" width="1" height="4" fill="#fff"/>
<rect x="162" y="166" width="4" height="6" fill="#fff"/>
<rect x="164" y="161" width="1" height="4" fill="#fff"/>
<rect x="168" y="166" width="4" height="6" fill="#fff"/>
<rect x="170" y="161" width="1" height="4" fill="#fff"/>
<rect x="174" y="166" width="4" height="6" fill="#fff"/>
<rect x="176" y="161" width="1" height="4" fill="#fff"/>
<rect x="180" y="166" width="4" height="6" fill="#fff"/>
<rect x="182" y="161" width="1" height="4" fill="#fff"/>
<rect x="186" y="166" width="4" height="6" fill="#fff"/>
<rect x="188" y="161" width="1" height="4" fill="#fff"/>
<rect x="192" y="166" width="4" height="6" fill="#fff"/>
<rect x="194" y="161" width="1" height="4" fill="#fff"/>
<rect x="198" y="166" width="4" height="6" fill="#fff"/>
<rect x="200" y="161" width="1" height="4" fill="#fff"/>
<rect x="203" y="166" width="4" height="6" fill="#fff"/>
<rect x="205" y="161" width="1" height="4" fill="#fff"/>
<rect x="209" y="166" width="4" height="6" fill="#fff"/>
<rect x="211" y="161" width="1" height="4" fill="#fff"/>
<rect x="215" y="166" width="4" height="6" fill="#fff"/>
<rect x="217" y="161" width="1" height="4" fill="#fff"/>
<rect x="49" y="173" width="1" height="1" fill="#fff"/>
<rect x="52" y="173" width="1" height="1" fill="#fff"/>
<rect x="55" y="173" width="1" height="1" fill="#fff"/>
<rect x="58" y="173" width="1" height="1" fill="#fff"/>
<rect x="61" y="173" width="1" height="1" fill="#fff"/>
<rect x="64" y="173" width="1" height="1" fill="#fff"/>
<rect x="67" y="173" width="1" height="1" fill="#fff"/>
<rect x="70" y="173" width="1" height="1" fill="#fff"/>
<rect x="73" y="173" width="1" height="1" fill="#fff"/>
<rect x="85" y="173" width="1" height="1" fill="#fff"/>
<rect x="88" y="173" width="1" height="1" fill="#fff"/>
<rect x="91" y="173" width="1" height="1" fill="#fff"/>
<rect x="94" y="173" width="1" height="1" fill="#fff"/>
<rect x="97" y="173" width="1" height="1" fill="#fff"/>
<rect x="100" y="173" width="1" height="1" fill="#fff"/>
<rect x="103" y="173" width="1" height="1" fill="#fff"/>
<rect x="106" y="173" width="1" height="1" fill="#fff"/>
<rect x="109" y="173" width="1" height="1" fill="#fff"/>
<rect x="112" y="173" width="1" height="1" fill="#fff"/>
<rect x="115" y="173" width="1" height="1" fill="#fff"/>
<rect x="118" y="173" width="1" height="1" fill="#fff"/>
<rect x="121" y="173" width="1" height="1" fill="#fff"/>
<rect x="124" y="173" width="1" height="1" fill="#fff"/>
<rect x="127" y="173" width="1" height="1" fill="#fff"/>
<rect x="130" y="173" width="1" height="1" fill="#fff"/>
<rect x="133" y="173" width="1" height="1" fill="#fff"/>
<rect x="136" y="173" width="1" height="1" fill="#fff"/>
<rect x="139" y="173" width="1" height="1" fill="#fff"/>
<rect x="142" y="173" width="1" height="1" fill="#fff"/>
<rect x="145" y="173" width="1" height="1" fill="#fff"/>
<rect x="148" y="173" width="1" height="1" fill="#fff"/>
<rect x="151" y="173" width="1" height="1" fill="#fff"/>
<rect x="154" y="173" width="1" height="1" fill="#fff"/>
<rect x="157" y="173" width="1" height="1" fill="#fff"/>
<rect x="160" y="173" width="1" height="1" fill="#fff"/>
<rect x="163" y="173" width="1" height="1" fill="#fff"/>
<rect x="166" y="173" width="1" height="1" fill="#fff"/>
<rect x="169" y="173" width="1" height="1" fill="#fff"/>
<rect x="172" y="173" width="1" height="1" fill="#fff"/>
<rect x="175" y="173" width="1" height="1" fill="#fff"/>
<rect x="178" y="173" width="1" height="1" fill="#fff"/>
<rect x="181" y="173" width="1" height="1" fill="#fff"/>
<rect x="184" y="173" width="1" height="1" fill="#fff"/>
<rect x="187" y="173" width="1" height="1" fill="#fff"/>
<rect x="190" y="173" width="1" height="1" fill="#fff"/>
<rect x="193" y="173" width="1" height="1" fill="#fff"/>
<rect x="196" y="173" width="1" height="1" fill="#fff"/>
<rect x="199" y="173" width="1" height="1" fill="#fff"/>
<rect x="202" y="173" width="1" height="1" fill="#fff"/>
<rect x="205" y="173" width="1" height="1" fill="#fff"/>
<rect x="208" y="173" width="1" height="1" fill="#fff"/>
<rect x="211" y="173" width="1" height="1" fill="#fff"/>
<rect x="214" y="173" width="1" height="1" fill="#fff"/>
<rect x="217" y="173" width="1" height="1" fill="#fff"/>
<rect x="220" y="173" width="1" height="1" fill="#fff"/>
<rect x="82" y="161" width="1" height="5" fill="#fff"/>
<rect x="82" y="166" width="1" height="7"/>
<rect x="79" y="166" width="1" height="6" fill="#fff"/>
<rect x="22" y="178" width="227" height="1"/>
<rect x="22" y="196" width="227" height="1"/>
<rect x="22" y="178" width="1" height="19"/>
<rect x="248" y="178" width="1" height="19"/>
<rect x="23" y="185" width="6" height="1"/>
<rect x="23" y="192" width="6" height="1"/>
<rect x="29" y="179" width="4" height="16"/>
<rect x="30" y="193" width="1" height="1" fill="#fff"/>
<rect x="30" y="195" width="3" height="1" fill="#fff"/>
<rect x="33" y="179" width="8" height="1"/>
<rect x="40" y="179" width="1" height="8"/>
<rect x="33" y="183" width="2" height="11"/>
<rect x="35" y="183" width="1" height="2"/>
<rect x="35" y="186" width="6" height="1"/>
<rect x="40" y="184" width="3" height="1"/>
<rect x="42" y="184" width="1" height="10"/>
<rect x="33" y="193" width="10" height="1"/>
<rect x="30" y="194" width="3" height="1"/>
<rect x="240" y="185" width="8" height="1"/>
<rect x="240" y="192" width="8" height="1"/>
<rect x="236" y="179" width="4" height="17"/>
<rect x="229" y="179" width="7" height="1"/>
<rect x="229" y="179" width="1" height="8"/>
<rect x="234" y="183" width="2" height="2"/>
<rect x="227" y="184" width="3" height="1"/>
<rect x="227" y="184" width="1" height="10"/>
<rect x="229" y="186" width="6" height="1"/>
<rect x="235" y="185" width="1" height="9"/>
<rect x="227" y="193" width="9" height="1"/>
<rect x="48" y="180" width="175" height="7"/>
<rect x="47" y="187" width="176" height="7"/>
<rect x="48" y="187" width="1" height="6" fill="#fff"/>
<rect x="221" y="187" width="1" height="6" fill="#fff"/>
<rect x="50" y="187" width="4" height="6" fill="#fff"/>
<rect x="52" y="181" width="1" height="4" fill="#fff"/>
<rect x="56" y="187" width="4" height="6" fill="#fff"/>
<rect x="58" y="181" width="1" height="4" fill="#fff"/>
<rect x="62" y="187" width="4" height="6" fill="#fff"/>
<rect x="64" y="181" width="1" height="4" fill="#fff"/>
<rect x="68" y="187" width="4" height="6" fill="#fff"/>
<rect x="70" y="181" width="1" height="4" fill="#fff"/>
<rect x="74" y="187" width="4" height="6" fill="#fff"/>
<rect x="76" y="181" width="1" height="4" fill="#fff"/>
<rect x="80" y="187" width="4" height="6" fill="#fff"/>
<rect x="82" y="181" width="1" height="4" fill="#fff"/>
<rect x="85" y="187" width="4" height="6" fill="#fff"/>
<rect x="87" y="181" width="1" height="4" fill="#fff"/>
<rect x="91" y="187" width="4" height="6" fill="#fff"/>
<rect x="93" y="181" width="1" height="4" fill="#fff"/>
<rect x="97" y="187" width="4" height="6" fill="#fff"/>
<rect x="99" y="181" width="1" height="4" fill="#fff"/>
<rect x="103" y="187" width="4" height="6" fill="#fff"/>
<rect x="105" y="181" width="1" height="4" fill="#fff"/>
<rect x="109" y="187" width="4" height="6" fill="#fff"/>
<rect x="111" y="181" width="1" height="4" fill="#fff"/>
<rect x="115" y="187" width="4" height="6" fill="#fff"/>
<rect x="117" y="181" width="1" height="4" fill="#fff"/>
<rect x="121" y="187" width="4" height="6" fill="#fff"/>
<rect x="123" y="181" width="1" height="4" fill="#fff"/>
<rect x="127" y="187" width="4" height="6" fill="#fff"/>
<rect x="129" y="181" width="1" height="4" fill="#fff"/>
<rect x="133" y="187" width="4" height="6" fill="#fff"/>
<rect x="135" y="181" width="1" height="4" fill="#fff"/>
<rect x="139" y="187" width="4" height="6" fill="#fff"/>
<rect x="141" y="181" width="1" height="4" fill="#fff"/>
<rect x="144" y="187" width="4" height="6" fill="#fff"/>
<rect x="146" y="181" width="1" height="4" fill="#fff"/>
<rect x="150" y="187" width="4" height="6" fill="#fff"/>
<rect x="152" y="181" width="1" height="4" fill="#fff"/>
<rect x="156" y="187" width="4" height="6" fill="#fff"/>
<rect x="158" y="181" width="1" height="4" fill="#fff"/>
<rect x="162" y="187" width="4" height="6" fill="#fff"/>
<rect x="164" y="181" width="1" height="4" fill="#fff"/>
<rect x="168" y="187" width="4" height="6" fill="#fff"/>
<rect x="170" y="181" width="1" height="4" fill="#fff"/>
<rect x="174" y="187" width="4" height="6" fill="#fff"/>
<rect x="176" y="181" width="1" height="4" fill="#fff"/>
<rect x="180" y="187" width="4" height="6" fill="#fff"/>
<rect x="182" y="181" width="1" height="4" fill="#fff"/>
<rect x="186" y="187" width="4" height="6" fill="#fff"/>
<rect x="188" y="181" width="1" height="4" fill="#fff"/>
<rect x="192" y="187" width="4" height="6" fill="#fff"/>
<rect x="194" y="181" width="1" height="4" fill="#fff"/>
<rect x="198" y="187" width="4" height="6" fill="#fff"/>
<rect x="200" y="181" width="1" height="4" fill="#fff"/>
<rect x="203" y="187" width="4" height="6" fill="#fff"/>
<rect x="205" y="181" width="1" height="4" fill="#fff"/>
<rect x="209" y="187" width="4" height="6" fill="#fff"/>
<rect x="211" y="181" width="1" height="4" fill="#fff"/>
<rect x="215" y="187" width="4" height="6" fill="#fff"/>
<rect x="217" y="181" width="1" height="4" fill="#fff"/>
<rect x="82" y="181" width="1" height="6" fill="#fff"/>
<rect x="82" y="187" width="1" height="7"/>
<rect x="79" y="187" width="1" height="6" fill="#fff"/>
<rect x="104" y="166" width="59" height="19"/>
<rect x="106" y="168" width="55" height="14" fill="#fff"/>
<rect x="106" y="168" width="1" height="1"/>
<rect x="160" y="168" width="1" height="1"/>
<rect x="106" y="181" width="1" height="1"/>
<rect x="160" y="181" width="1" height="1"/>
<text transform="translate(108.23,179) scale(0.647,1)" font-size="14.53" filter="url(#th)">B</text>
<text transform="translate(115.98,179) scale(0.726,1)" font-size="14.53" filter="url(#th)">A</text>
<text transform="translate(124.97,179) scale(0.862,1)" font-size="14.53" filter="url(#th)">N</text>
<text transform="translate(134.00,179) scale(0.840,1)" font-size="14.53" filter="url(#th)">K</text>
<rect x="152" y="169" width="1" height="10"/>
<rect x="151" y="170" width="1" height="1"/>
<rect x="150" y="171" width="1" height="1"/>
<rect x="22" y="213" width="227" height="1"/>
<rect x="22" y="231" width="227" height="1"/>
<rect x="22" y="213" width="1" height="19"/>
<rect x="248" y="213" width="1" height="19"/>
<rect x="23" y="220" width="6" height="1"/>
<rect x="23" y="227" width="6" height="1"/>
<rect x="29" y="214" width="4" height="16"/>
<rect x="30" y="228" width="1" height="1" fill="#fff"/>
<rect x="30" y="230" width="3" height="1" fill="#fff"/>
<rect x="33" y="214" width="8" height="1"/>
<rect x="40" y="214" width="1" height="8"/>
<rect x="33" y="218" width="2" height="11"/>
<rect x="35" y="218" width="1" height="2"/>
<rect x="35" y="221" width="6" height="1"/>
<rect x="40" y="219" width="3" height="1"/>
<rect x="42" y="219" width="1" height="10"/>
<rect x="33" y="228" width="10" height="1"/>
<rect x="30" y="229" width="3" height="1"/>
<rect x="240" y="220" width="8" height="1"/>
<rect x="240" y="227" width="8" height="1"/>
<rect x="236" y="214" width="4" height="17"/>
<rect x="229" y="214" width="7" height="1"/>
<rect x="229" y="214" width="1" height="8"/>
<rect x="234" y="218" width="2" height="2"/>
<rect x="227" y="219" width="3" height="1"/>
<rect x="227" y="219" width="1" height="10"/>
<rect x="229" y="221" width="6" height="1"/>
<rect x="235" y="220" width="1" height="9"/>
<rect x="227" y="228" width="9" height="1"/>
<rect x="48" y="215" width="175" height="7"/>
<rect x="47" y="222" width="176" height="8"/>
<rect x="48" y="222" width="1" height="6" fill="#fff"/>
<rect x="221" y="222" width="1" height="6" fill="#fff"/>
<rect x="50" y="222" width="4" height="6" fill="#fff"/>
<rect x="52" y="216" width="1" height="5" fill="#fff"/>
<rect x="56" y="222" width="4" height="6" fill="#fff"/>
<rect x="58" y="216" width="1" height="5" fill="#fff"/>
<rect x="62" y="222" width="4" height="6" fill="#fff"/>
<rect x="64" y="216" width="1" height="5" fill="#fff"/>
<rect x="68" y="222" width="4" height="6" fill="#fff"/>
<rect x="70" y="216" width="1" height="5" fill="#fff"/>
<rect x="74" y="222" width="4" height="6" fill="#fff"/>
<rect x="76" y="216" width="1" height="5" fill="#fff"/>
<rect x="80" y="222" width="4" height="6" fill="#fff"/>
<rect x="82" y="216" width="1" height="5" fill="#fff"/>
<rect x="85" y="222" width="4" height="6" fill="#fff"/>
<rect x="87" y="216" width="1" height="5" fill="#fff"/>
<rect x="91" y="222" width="4" height="6" fill="#fff"/>
<rect x="93" y="216" width="1" height="5" fill="#fff"/>
<rect x="97" y="222" width="4" height="6" fill="#fff"/>
<rect x="99" y="216" width="1" height="5" fill="#fff"/>
<rect x="103" y="222" width="4" height="6" fill="#fff"/>
<rect x="105" y="216" width="1" height="5" fill="#fff"/>
<rect x="109" y="222" width="4" height="6" fill="#fff"/>
<rect x="111" y="216" width="1" height="5" fill="#fff"/>
<rect x="115" y="222" width="4" height="6" fill="#fff"/>
<rect x="117" y="216" width="1" height="5" fill="#fff"/>
<rect x="121" y="222" width="4" height="6" fill="#fff"/>
<rect x="123" y="216" width="1" height="5" fill="#fff"/>
<rect x="127" y="222" width="4" height="6" fill="#fff"/>
<rect x="129" y="216" width="1" height="5" fill="#fff"/>
<rect x="133" y="222" width="4" height="6" fill="#fff"/>
<rect x="135" y="216" width="1" height="5" fill="#fff"/>
<rect x="139" y="222" width="4" height="6" fill="#fff"/>
<rect x="141" y="216" width="1" height="5" fill="#fff"/>
<rect x="144" y="222" width="4" height="6" fill="#fff"/>
<rect x="146" y="216" width="1" height="5" fill="#fff"/>
<rect x="150" y="222" width="4" height="6" fill="#fff"/>
<rect x="152" y="216" width="1" height="5" fill="#fff"/>
<rect x="156" y="222" width="4" height="6" fill="#fff"/>
<rect x="158" y="216" width="1" height="5" fill="#fff"/>
<rect x="162" y="222" width="4" height="6" fill="#fff"/>
<rect x="164" y="216" width="1" height="5" fill="#fff"/>
<rect x="168" y="222" width="4" height="6" fill="#fff"/>
<rect x="170" y="216" width="1" height="5" fill="#fff"/>
<rect x="174" y="222" width="4" height="6" fill="#fff"/>
<rect x="176" y="216" width="1" height="5" fill="#fff"/>
<rect x="180" y="222" width="4" height="6" fill="#fff"/>
<rect x="182" y="216" width="1" height="5" fill="#fff"/>
<rect x="186" y="222" width="4" height="6" fill="#fff"/>
<rect x="188" y="216" width="1" height="5" fill="#fff"/>
<rect x="192" y="222" width="4" height="6" fill="#fff"/>
<rect x="194" y="216" width="1" height="5" fill="#fff"/>
<rect x="198" y="222" width="4" height="6" fill="#fff"/>
<rect x="200" y="216" width="1" height="5" fill="#fff"/>
<rect x="203" y="222" width="4" height="6" fill="#fff"/>
<rect x="205" y="216" width="1" height="5" fill="#fff"/>
<rect x="209" y="222" width="4" height="6" fill="#fff"/>
<rect x="211" y="216" width="1" height="5" fill="#fff"/>
<rect x="215" y="222" width="4" height="6" fill="#fff"/>
<rect x="217" y="216" width="1" height="5" fill="#fff"/>
<rect x="49" y="229" width="1" height="1" fill="#fff"/>
<rect x="52" y="229" width="1" height="1" fill="#fff"/>
<rect x="55" y="229" width="1" height="1" fill="#fff"/>
<rect x="58" y="229" width="1" height="1" fill="#fff"/>
<rect x="61" y="229" width="1" height="1" fill="#fff"/>
<rect x="64" y="229" width="1" height="1" fill="#fff"/>
<rect x="67" y="229" width="1" height="1" fill="#fff"/>
<rect x="70" y="229" width="1" height="1" fill="#fff"/>
<rect x="73" y="229" width="1" height="1" fill="#fff"/>
<rect x="85" y="229" width="1" height="1" fill="#fff"/>
<rect x="88" y="229" width="1" height="1" fill="#fff"/>
<rect x="91" y="229" width="1" height="1" fill="#fff"/>
<rect x="94" y="229" width="1" height="1" fill="#fff"/>
<rect x="97" y="229" width="1" height="1" fill="#fff"/>
<rect x="100" y="229" width="1" height="1" fill="#fff"/>
<rect x="103" y="229" width="1" height="1" fill="#fff"/>
<rect x="106" y="229" width="1" height="1" fill="#fff"/>
<rect x="109" y="229" width="1" height="1" fill="#fff"/>
<rect x="112" y="229" width="1" height="1" fill="#fff"/>
<rect x="115" y="229" width="1" height="1" fill="#fff"/>
<rect x="118" y="229" width="1" height="1" fill="#fff"/>
<rect x="121" y="229" width="1" height="1" fill="#fff"/>
<rect x="124" y="229" width="1" height="1" fill="#fff"/>
<rect x="127" y="229" width="1" height="1" fill="#fff"/>
<rect x="130" y="229" width="1" height="1" fill="#fff"/>
<rect x="133" y="229" width="1" height="1" fill="#fff"/>
<rect x="136" y="229" width="1" height="1" fill="#fff"/>
<rect x="139" y="229" width="1" height="1" fill="#fff"/>
<rect x="142" y="229" width="1" height="1" fill="#fff"/>
<rect x="145" y="229" width="1" height="1" fill="#fff"/>
<rect x="148" y="229" width="1" height="1" fill="#fff"/>
<rect x="151" y="229" width="1" height="1" fill="#fff"/>
<rect x="154" y="229" width="1" height="1" fill="#fff"/>
<rect x="157" y="229" width="1" height="1" fill="#fff"/>
<rect x="160" y="229" width="1" height="1" fill="#fff"/>
<rect x="163" y="229" width="1" height="1" fill="#fff"/>
<rect x="166" y="229" width="1" height="1" fill="#fff"/>
<rect x="169" y="229" width="1" height="1" fill="#fff"/>
<rect x="172" y="229" width="1" height="1" fill="#fff"/>
<rect x="175" y="229" width="1" height="1" fill="#fff"/>
<rect x="178" y="229" width="1" height="1" fill="#fff"/>
<rect x="181" y="229" width="1" height="1" fill="#fff"/>
<rect x="184" y="229" width="1" height="1" fill="#fff"/>
<rect x="187" y="229" width="1" height="1" fill="#fff"/>
<rect x="190" y="229" width="1" height="1" fill="#fff"/>
<rect x="193" y="229" width="1" height="1" fill="#fff"/>
<rect x="196" y="229" width="1" height="1" fill="#fff"/>
<rect x="199" y="229" width="1" height="1" fill="#fff"/>
<rect x="202" y="229" width="1" height="1" fill="#fff"/>
<rect x="205" y="229" width="1" height="1" fill="#fff"/>
<rect x="208" y="229" width="1" height="1" fill="#fff"/>
<rect x="211" y="229" width="1" height="1" fill="#fff"/>
<rect x="214" y="229" width="1" height="1" fill="#fff"/>
<rect x="217" y="229" width="1" height="1" fill="#fff"/>
<rect x="220" y="229" width="1" height="1" fill="#fff"/>
<rect x="82" y="216" width="1" height="6" fill="#fff"/>
<rect x="82" y="222" width="1" height="7"/>
<rect x="79" y="222" width="1" height="6" fill="#fff"/>
<rect x="22" y="234" width="227" height="1"/>
<rect x="22" y="252" width="227" height="1"/>
<rect x="22" y="234" width="1" height="19"/>
<rect x="248" y="234" width="1" height="19"/>
<rect x="23" y="241" width="6" height="1"/>
<rect x="23" y="248" width="6" height="1"/>
<rect x="29" y="235" width="4" height="16"/>
<rect x="30" y="249" width="1" height="1" fill="#fff"/>
<rect x="30" y="251" width="3" height="1" fill="#fff"/>
<rect x="33" y="235" width="8" height="1"/>
<rect x="40" y="235" width="1" height="8"/>
<rect x="33" y="239" width="2" height="11"/>
<rect x="35" y="239" width="1" height="2"/>
<rect x="35" y="242" width="6" height="1"/>
<rect x="40" y="240" width="3" height="1"/>
<rect x="42" y="240" width="1" height="10"/>
<rect x="33" y="249" width="10" height="1"/>
<rect x="30" y="250" width="3" height="1"/>
<rect x="240" y="241" width="8" height="1"/>
<rect x="240" y="248" width="8" height="1"/>
<rect x="236" y="235" width="4" height="17"/>
<rect x="229" y="235" width="7" height="1"/>
<rect x="229" y="235" width="1" height="8"/>
<rect x="234" y="239" width="2" height="2"/>
<rect x="227" y="240" width="3" height="1"/>
<rect x="227" y="240" width="1" height="10"/>
<rect x="229" y="242" width="6" height="1"/>
<rect x="235" y="241" width="1" height="9"/>
<rect x="227" y="249" width="9" height="1"/>
<rect x="48" y="236" width="175" height="7"/>
<rect x="47" y="243" width="176" height="7"/>
<rect x="48" y="243" width="1" height="6" fill="#fff"/>
<rect x="221" y="243" width="1" height="6" fill="#fff"/>
<rect x="50" y="243" width="4" height="6" fill="#fff"/>
<rect x="52" y="237" width="1" height="4" fill="#fff"/>
<rect x="56" y="243" width="4" height="6" fill="#fff"/>
<rect x="58" y="237" width="1" height="4" fill="#fff"/>
<rect x="62" y="243" width="4" height="6" fill="#fff"/>
<rect x="64" y="237" width="1" height="4" fill="#fff"/>
<rect x="68" y="243" width="4" height="6" fill="#fff"/>
<rect x="70" y="237" width="1" height="4" fill="#fff"/>
<rect x="74" y="243" width="4" height="6" fill="#fff"/>
<rect x="76" y="237" width="1" height="4" fill="#fff"/>
<rect x="80" y="243" width="4" height="6" fill="#fff"/>
<rect x="82" y="237" width="1" height="4" fill="#fff"/>
<rect x="85" y="243" width="4" height="6" fill="#fff"/>
<rect x="87" y="237" width="1" height="4" fill="#fff"/>
<rect x="91" y="243" width="4" height="6" fill="#fff"/>
<rect x="93" y="237" width="1" height="4" fill="#fff"/>
<rect x="97" y="243" width="4" height="6" fill="#fff"/>
<rect x="99" y="237" width="1" height="4" fill="#fff"/>
<rect x="103" y="243" width="4" height="6" fill="#fff"/>
<rect x="105" y="237" width="1" height="4" fill="#fff"/>
<rect x="109" y="243" width="4" height="6" fill="#fff"/>
<rect x="111" y="237" width="1" height="4" fill="#fff"/>
<rect x="115" y="243" width="4" height="6" fill="#fff"/>
<rect x="117" y="237" width="1" height="4" fill="#fff"/>
<rect x="121" y="243" width="4" height="6" fill="#fff"/>
<rect x="123" y="237" width="1" height="4" fill="#fff"/>
<rect x="127" y="243" width="4" height="6" fill="#fff"/>
<rect x="129" y="237" width="1" height="4" fill="#fff"/>
<rect x="133" y="243" width="4" height="6" fill="#fff"/>
<rect x="135" y="237" width="1" height="4" fill="#fff"/>
<rect x="139" y="243" width="4" height="6" fill="#fff"/>
<rect x="141" y="237" width="1" height="4" fill="#fff"/>
<rect x="144" y="243" width="4" height="6" fill="#fff"/>
<rect x="146" y="237" width="1" height="4" fill="#fff"/>
<rect x="150" y="243" width="4" height="6" fill="#fff"/>
<rect x="152" y="237" width="1" height="4" fill="#fff"/>
<rect x="156" y="243" width="4" height="6" fill="#fff"/>
<rect x="158" y="237" width="1" height="4" fill="#fff"/>
<rect x="162" y="243" width="4" height="6" fill="#fff"/>
<rect x="164" y="237" width="1" height="4" fill="#fff"/>
<rect x="168" y="243" width="4" height="6" fill="#fff"/>
<rect x="170" y="237" width="1" height="4" fill="#fff"/>
<rect x="174" y="243" width="4" height="6" fill="#fff"/>
<rect x="176" y="237" width="1" height="4" fill="#fff"/>
<rect x="180" y="243" width="4" height="6" fill="#fff"/>
<rect x="182" y="237" width="1" height="4" fill="#fff"/>
<rect x="186" y="243" width="4" height="6" fill="#fff"/>
<rect x="188" y="237" width="1" height="4" fill="#fff"/>
<rect x="192" y="243" width="4" height="6" fill="#fff"/>
<rect x="194" y="237" width="1" height="4" fill="#fff"/>
<rect x="198" y="243" width="4" height="6" fill="#fff"/>
<rect x="200" y="237" width="1" height="4" fill="#fff"/>
<rect x="203" y="243" width="4" height="6" fill="#fff"/>
<rect x="205" y="237" width="1" height="4" fill="#fff"/>
<rect x="209" y="243" width="4" height="6" fill="#fff"/>
<rect x="211" y="237" width="1" height="4" fill="#fff"/>
<rect x="215" y="243" width="4" height="6" fill="#fff"/>
<rect x="217" y="237" width="1" height="4" fill="#fff"/>
<rect x="82" y="237" width="1" height="6" fill="#fff"/>
<rect x="82" y="243" width="1" height="7"/>
<rect x="79" y="243" width="1" height="6" fill="#fff"/>
<rect x="104" y="222" width="59" height="19"/>
<rect x="106" y="224" width="55" height="15" fill="#fff"/>
<rect x="106" y="224" width="1" height="1"/>
<rect x="160" y="224" width="1" height="1"/>
<rect x="106" y="238" width="1" height="1"/>
<rect x="160" y="238" width="1" height="1"/>
<text transform="translate(107.08,235) scale(0.776,1)" font-size="14.53" filter="url(#th)">B</text>
<text transform="translate(115.98,235) scale(0.726,1)" font-size="14.53" filter="url(#th)">A</text>
<text transform="translate(124.97,235) scale(0.862,1)" font-size="14.53" filter="url(#th)">N</text>
<text transform="translate(134.00,235) scale(0.840,1)" font-size="14.53" filter="url(#th)">K</text>
<text transform="translate(148.51,235) scale(0.876,1)" font-size="14.33" filter="url(#th)">0</text>
<polygon points="220.50,40.90 237.60,37.30 237.60,35.30 220.50,31.70" fill="#000"/>
<rect x="199" y="27" width="22" height="19"/>
<rect x="197" y="29" width="26" height="15"/>
<rect x="198" y="28" width="24" height="17"/>
<rect x="200" y="30" width="20" height="13" fill="#fff"/>
<rect x="199" y="31" width="22" height="11" fill="#fff"/>
<polygon points="218.50,38.50 230.35,36.30 218.50,34.10" fill="#fff"/>
<text transform="translate(201.52,41) scale(0.728,1)" font-size="14.33" filter="url(#th)">S</text>
<rect x="214" y="31" width="1" height="10"/>
<rect x="213" y="32" width="1" height="1"/>
<rect x="212" y="33" width="1" height="1"/>
<polygon points="100.50,265.40 82.50,268.10 82.50,269.90 100.50,272.60" fill="#000"/>
<rect x="100" y="260" width="32" height="18"/>
<rect x="98" y="262" width="36" height="14"/>
<rect x="99" y="261" width="34" height="16"/>
<rect x="101" y="263" width="30" height="12" fill="#fff"/>
<rect x="100" y="264" width="32" height="10" fill="#fff"/>
<polygon points="102.50,267.40 91.85,269.00 102.50,270.60" fill="#fff"/>
<text transform="translate(105.84,273) scale(0.671,1)" font-size="14.53" filter="url(#th)">J</text>
<rect x="116" y="263" width="1" height="10"/>
<rect x="115" y="264" width="1" height="1"/>
<rect x="114" y="265" width="1" height="1"/>
<text transform="translate(120.45,273) scale(0.757,1)" font-size="14.33" filter="url(#th)">6</text>
<polygon points="33.50,286.10 51.50,283.40 51.50,281.60 33.50,278.90" fill="#000"/>
<rect x="12" y="273" width="22" height="19"/>
<rect x="10" y="275" width="26" height="15"/>
<rect x="11" y="274" width="24" height="17"/>
<rect x="13" y="276" width="20" height="13" fill="#fff"/>
<rect x="12" y="277" width="22" height="11" fill="#fff"/>
<polygon points="31.50,284.10 42.15,282.50 31.50,280.90" fill="#fff"/>
<text transform="translate(14.84,286) scale(0.671,1)" font-size="14.53" filter="url(#th)">J</text>
<text transform="translate(21.45,286) scale(0.765,1)" font-size="14.33" filter="url(#th)">2</text>
<polygon points="43.27,307.69 52.64,295.64 51.36,294.36 39.31,303.73" fill="#000"/>
<rect x="12" y="303" width="31" height="19"/>
<rect x="10" y="305" width="35" height="15"/>
<rect x="11" y="304" width="33" height="17"/>
<rect x="13" y="306" width="29" height="13" fill="#fff"/>
<rect x="12" y="307" width="31" height="11" fill="#fff"/>
<polygon points="40.73,307.97 47.00,300.00 39.03,306.27" fill="#fff"/>
<text transform="translate(15.80,316) scale(0.839,1)" font-size="14.53" filter="url(#th)">J</text>
<rect x="26" y="306" width="1" height="10"/>
<rect x="25" y="307" width="1" height="1"/>
<rect x="24" y="308" width="1" height="1"/>
<text transform="translate(29.33,316) scale(0.907,1)" font-size="14.53" filter="url(#th)">7</text>
<polygon points="110.04,305.19 108.40,285.55 106.60,285.45 102.85,304.80" fill="#000"/>
<rect x="95" y="303" width="22" height="19"/>
<rect x="93" y="305" width="26" height="15"/>
<rect x="94" y="304" width="24" height="17"/>
<rect x="96" y="306" width="20" height="13" fill="#fff"/>
<rect x="95" y="307" width="22" height="11" fill="#fff"/>
<polygon points="107.94,307.08 106.95,295.68 104.74,306.91" fill="#fff"/>
<text transform="translate(97.80,316) scale(0.839,1)" font-size="14.53" filter="url(#th)">J</text>
<text transform="translate(105.52,316) scale(0.884,1)" font-size="14.33" filter="url(#th)">3</text>
<polygon points="141.08,305.06 138.70,285.51 136.90,285.49 133.88,304.94" fill="#000"/>
<rect x="126" y="303" width="22" height="19"/>
<rect x="124" y="305" width="26" height="15"/>
<rect x="125" y="304" width="24" height="17"/>
<rect x="127" y="306" width="20" height="13" fill="#fff"/>
<rect x="126" y="307" width="22" height="11" fill="#fff"/>
<polygon points="139.05,307.03 137.63,295.68 135.85,306.97" fill="#fff"/>
<text transform="translate(129.80,316) scale(0.839,1)" font-size="14.53" filter="url(#th)">J</text>
<text transform="translate(136.34,316) scale(0.908,1)" font-size="14.33" filter="url(#th)">6</text>
<polygon points="639.59,388.04 637.10,369.51 635.30,369.49 632.39,387.96" fill="#000"/>
<rect x="624" y="386" width="22" height="19"/>
<rect x="622" y="388" width="26" height="15"/>
<rect x="623" y="387" width="24" height="17"/>
<rect x="625" y="389" width="20" height="13" fill="#fff"/>
<rect x="624" y="390" width="22" height="11" fill="#fff"/>
<polygon points="637.57,390.02 636.09,379.12 634.37,389.98" fill="#fff"/>
<text transform="translate(627.80,399) scale(0.932,1)" font-size="13.08" filter="url(#th)">J</text>
<text transform="translate(634.49,399) scale(0.968,1)" font-size="13.08" filter="url(#th)">5</text>
<polygon points="462.92,451.94 465.30,471.49 467.10,471.51 470.12,452.06" fill="#000"/>
<rect x="456" y="436" width="22" height="19"/>
<rect x="454" y="438" width="26" height="15"/>
<rect x="455" y="437" width="24" height="17"/>
<rect x="457" y="439" width="20" height="13" fill="#fff"/>
<rect x="456" y="440" width="22" height="11" fill="#fff"/>
<polygon points="464.95,449.97 466.37,461.32 468.15,450.03" fill="#fff"/>
<text transform="translate(459.80,449) scale(0.839,1)" font-size="14.53" filter="url(#th)">J</text>
<text transform="translate(466.33,449) scale(0.907,1)" font-size="14.53" filter="url(#th)">7</text>
<polygon points="710.50,448.60 728.50,445.90 728.50,444.10 710.50,441.40" fill="#000"/>
<rect x="679" y="435" width="32" height="19"/>
<rect x="677" y="437" width="36" height="15"/>
<rect x="678" y="436" width="34" height="17"/>
<rect x="680" y="438" width="30" height="13" fill="#fff"/>
<rect x="679" y="439" width="32" height="11" fill="#fff"/>
<polygon points="708.50,446.60 719.15,445.00 708.50,443.40" fill="#fff"/>
<text transform="translate(683.80,448) scale(1.049,1)" font-size="11.63" filter="url(#th)">J</text>
<rect x="694" y="440" width="1" height="8"/>
<rect x="693" y="441" width="1" height="1"/>
<rect x="692" y="442" width="1" height="1"/>
<text transform="translate(697.54,448) scale(0.928,1)" font-size="11.46" filter="url(#th)">8</text>
<rect x="51" y="266" width="31" height="7"/>
<rect x="52" y="267" width="1" height="5" fill="#fff"/>
<rect x="54" y="267" width="4" height="5" fill="#fff"/>
<rect x="55" y="268" width="2" height="3"/>
<rect x="58" y="267" width="1" height="5" fill="#fff"/>
<rect x="63" y="267" width="2" height="5" fill="#fff"/>
<rect x="69" y="267" width="2" height="5" fill="#fff"/>
<rect x="75" y="267" width="2" height="5" fill="#fff"/>
<rect x="51" y="279" width="20" height="7"/>
<rect x="52" y="280" width="1" height="5" fill="#fff"/>
<rect x="54" y="280" width="4" height="5" fill="#fff"/>
<rect x="55" y="281" width="2" height="3"/>
<rect x="58" y="280" width="1" height="5" fill="#fff"/>
<rect x="63" y="280" width="2" height="5" fill="#fff"/>
<rect x="69" y="280" width="1" height="5" fill="#fff"/>
<rect x="51" y="292" width="20" height="7"/>
<rect x="52" y="293" width="18" height="5" fill="#fff"/>
<rect x="54" y="294" width="3" height="3" fill="#fff"/>
<rect x="55" y="295" width="1" height="1"/>
<rect x="58" y="294" width="5" height="4"/>
<rect x="64" y="294" width="5" height="4"/>
<rect x="100" y="279" width="14" height="7"/>
<rect x="101" y="280" width="1" height="5" fill="#fff"/>
<rect x="106" y="280" width="1" height="5" fill="#fff"/>
<rect x="111" y="280" width="1" height="5" fill="#fff"/>
<rect x="131" y="279" width="13" height="7"/>
<rect x="132" y="280" width="1" height="5" fill="#fff"/>
<rect x="137" y="280" width="1" height="5" fill="#fff"/>
<rect x="626" y="363" width="19" height="7"/>
<rect x="627" y="364" width="1" height="5" fill="#fff"/>
<rect x="629" y="364" width="3" height="5" fill="#fff"/>
<rect x="630" y="365" width="1" height="3"/>
<rect x="633" y="364" width="1" height="5" fill="#fff"/>
<rect x="638" y="364" width="1" height="5" fill="#fff"/>
<rect x="457" y="471" width="19" height="7"/>
<rect x="458" y="472" width="17" height="5" fill="#fff"/>
<rect x="459" y="473" width="3" height="3" fill="#fff"/>
<rect x="463" y="473" width="5" height="4"/>
<rect x="469" y="473" width="5" height="4"/>
<rect x="728" y="431" width="7" height="26"/>
<rect x="729" y="432" width="5" height="1" fill="#fff"/>
<rect x="733" y="432" width="1" height="24" fill="#fff"/>
<rect x="729" y="455" width="5" height="1" fill="#fff"/>
<rect x="729" y="438" width="4" height="1" fill="#fff"/>
<rect x="729" y="444" width="4" height="1" fill="#fff"/>
<rect x="729" y="450" width="4" height="1" fill="#fff"/>
<rect x="730" y="434" width="3" height="3" fill="#fff"/>
<rect x="731" y="435" width="1" height="1"/>
<rect x="175" y="285" width="126" height="43"/>
<rect x="178" y="287" width="4" height="5" fill="#fff"/>
<rect x="177" y="321" width="4" height="5" fill="#fff"/>
<rect x="184" y="287" width="3" height="5" fill="#fff"/>
<rect x="184" y="321" width="4" height="5" fill="#fff"/>
<rect x="190" y="287" width="4" height="5" fill="#fff"/>
<rect x="190" y="321" width="4" height="5" fill="#fff"/>
<rect x="197" y="287" width="3" height="5" fill="#fff"/>
<rect x="197" y="321" width="4" height="5" fill="#fff"/>
<rect x="203" y="287" width="4" height="5" fill="#fff"/>
<rect x="203" y="321" width="4" height="5" fill="#fff"/>
<rect x="209" y="287" width="3" height="5" fill="#fff"/>
<rect x="209" y="321" width="4" height="5" fill="#fff"/>
<rect x="215" y="287" width="4" height="5" fill="#fff"/>
<rect x="215" y="321" width="4" height="5" fill="#fff"/>
<rect x="221" y="287" width="3" height="5" fill="#fff"/>
<rect x="221" y="321" width="4" height="5" fill="#fff"/>
<rect x="228" y="287" width="4" height="5" fill="#fff"/>
<rect x="228" y="321" width="4" height="5" fill="#fff"/>
<rect x="234" y="287" width="3" height="5" fill="#fff"/>
<rect x="234" y="321" width="4" height="5" fill="#fff"/>
<rect x="240" y="287" width="4" height="5" fill="#fff"/>
<rect x="240" y="321" width="4" height="5" fill="#fff"/>
<rect x="246" y="287" width="3" height="5" fill="#fff"/>
<rect x="246" y="321" width="4" height="5" fill="#fff"/>
<rect x="253" y="287" width="4" height="5" fill="#fff"/>
<rect x="253" y="321" width="4" height="5" fill="#fff"/>
<rect x="259" y="287" width="3" height="5" fill="#fff"/>
<rect x="259" y="321" width="4" height="5" fill="#fff"/>
<rect x="265" y="287" width="4" height="5" fill="#fff"/>
<rect x="265" y="321" width="4" height="5" fill="#fff"/>
<rect x="271" y="287" width="3" height="5" fill="#fff"/>
<rect x="271" y="321" width="4" height="5" fill="#fff"/>
<rect x="277" y="287" width="4" height="5" fill="#fff"/>
<rect x="277" y="321" width="4" height="5" fill="#fff"/>
<rect x="284" y="287" width="3" height="5" fill="#fff"/>
<rect x="284" y="321" width="4" height="5" fill="#fff"/>
<rect x="290" y="287" width="4" height="5" fill="#fff"/>
<rect x="290" y="321" width="4" height="5" fill="#fff"/>
<rect x="296" y="287" width="3" height="5" fill="#fff"/>
<rect x="296" y="321" width="4" height="5" fill="#fff"/>
<rect x="180" y="295" width="109" height="23" fill="#fff"/>
<path d="M301,300 A6,6 0 0 0 301,312 Z" fill="#fff"/>
<rect x="232" y="295" width="5" height="23"/>
<rect x="224" y="297" width="29" height="20"/>
<rect x="222" y="299" width="33" height="16"/>
<rect x="223" y="298" width="31" height="18"/>
<rect x="225" y="300" width="27" height="14" fill="#fff"/>
<rect x="224" y="301" width="29" height="12" fill="#fff"/>
<text transform="translate(225.12,310) scale(0.738,1)" font-size="14.53" filter="url(#th)">N</text>
<text transform="translate(235.08,310) scale(0.776,1)" font-size="14.53" filter="url(#th)">P</text>
<text transform="translate(243.05,310) scale(0.848,1)" font-size="14.53" filter="url(#th)">U</text>
<polygon points="76,333 137,333 137,394 81,394 76,389" fill="#000"/>
<rect x="78" y="335" width="57" height="57" fill="#fff"/>
<rect x="78" y="335" width="7" height="6"/>
<rect x="130" y="335" width="5" height="5"/>
<rect x="129" y="387" width="6" height="5"/>
<polygon points="83,341 129,341 129,387 88,387 83,382" fill="#000"/>
<rect x="95" y="335" width="1" height="5"/>
<rect x="105" y="335" width="1" height="5"/>
<rect x="114" y="335" width="1" height="5"/>
<rect x="78" y="363" width="5" height="1"/>
<rect x="78" y="372" width="5" height="1"/>
<rect x="78" y="382" width="5" height="1"/>
<rect x="130" y="351" width="5" height="1"/>
<rect x="130" y="363" width="5" height="1"/>
<rect x="130" y="373" width="5" height="1"/>
<rect x="130" y="382" width="5" height="1"/>
<rect x="97" y="388" width="1" height="4"/>
<rect x="107" y="388" width="1" height="4"/>
<rect x="117" y="388" width="1" height="4"/>
<rect x="127" y="388" width="1" height="4"/>
<circle cx="81" cy="389.5" r="2.6" fill="#fff" stroke="#000" stroke-width="1"/>
<rect x="93" y="356" width="28" height="15" fill="#fff"/>
<text transform="translate(93.52,368) scale(0.662,1)" font-size="14.33" filter="url(#th)">C</text>
<text transform="translate(104.08,368) scale(0.776,1)" font-size="14.53" filter="url(#th)">P</text>
<text transform="translate(112.05,368) scale(0.848,1)" font-size="14.53" filter="url(#th)">U</text>
<rect x="196" y="345" width="58" height="3"/>
<rect x="196" y="408" width="58" height="3"/>
<rect x="192" y="351" width="3" height="54"/>
<rect x="255" y="351" width="3" height="54"/>
<rect x="195" y="348" width="60" height="60"/>
<rect x="201" y="345" width="1" height="3" fill="#fff"/>
<rect x="204" y="345" width="1" height="3" fill="#fff"/>
<rect x="218" y="345" width="1" height="3" fill="#fff"/>
<rect x="221" y="345" width="1" height="3" fill="#fff"/>
<rect x="233" y="345" width="1" height="3" fill="#fff"/>
<rect x="235" y="345" width="1" height="3" fill="#fff"/>
<rect x="237" y="345" width="1" height="3" fill="#fff"/>
<rect x="249" y="345" width="1" height="3" fill="#fff"/>
<rect x="251" y="345" width="1" height="3" fill="#fff"/>
<rect x="203" y="408" width="1" height="3" fill="#fff"/>
<rect x="205" y="408" width="1" height="3" fill="#fff"/>
<rect x="208" y="408" width="1" height="3" fill="#fff"/>
<rect x="224" y="408" width="1" height="3" fill="#fff"/>
<rect x="226" y="408" width="1" height="3" fill="#fff"/>
<rect x="237" y="408" width="1" height="3" fill="#fff"/>
<rect x="240" y="408" width="1" height="3" fill="#fff"/>
<rect x="242" y="408" width="1" height="3" fill="#fff"/>
<rect x="246" y="408" width="1" height="3" fill="#fff"/>
<rect x="192" y="352" width="3" height="1" fill="#fff"/>
<rect x="192" y="354" width="3" height="1" fill="#fff"/>
<rect x="192" y="356" width="3" height="1" fill="#fff"/>
<rect x="192" y="370" width="3" height="1" fill="#fff"/>
<rect x="192" y="373" width="3" height="1" fill="#fff"/>
<rect x="192" y="376" width="3" height="1" fill="#fff"/>
<rect x="192" y="387" width="3" height="1" fill="#fff"/>
<rect x="192" y="390" width="3" height="1" fill="#fff"/>
<rect x="192" y="393" width="3" height="1" fill="#fff"/>
<rect x="255" y="357" width="3" height="1" fill="#fff"/>
<rect x="255" y="360" width="3" height="1" fill="#fff"/>
<rect x="255" y="363" width="3" height="1" fill="#fff"/>
<rect x="255" y="376" width="3" height="1" fill="#fff"/>
<rect x="255" y="379" width="3" height="1" fill="#fff"/>
<rect x="255" y="382" width="3" height="1" fill="#fff"/>
<rect x="255" y="396" width="3" height="1" fill="#fff"/>
<rect x="255" y="399" width="3" height="1" fill="#fff"/>
<rect x="255" y="402" width="3" height="1" fill="#fff"/>
<rect x="138" y="422" width="57" height="3"/>
<rect x="138" y="484" width="57" height="3"/>
<rect x="134" y="428" width="3" height="53"/>
<rect x="196" y="428" width="3" height="53"/>
<rect x="137" y="425" width="59" height="59"/>
<rect x="143" y="422" width="1" height="3" fill="#fff"/>
<rect x="146" y="422" width="1" height="3" fill="#fff"/>
<rect x="160" y="422" width="1" height="3" fill="#fff"/>
<rect x="163" y="422" width="1" height="3" fill="#fff"/>
<rect x="175" y="422" width="1" height="3" fill="#fff"/>
<rect x="177" y="422" width="1" height="3" fill="#fff"/>
<rect x="179" y="422" width="1" height="3" fill="#fff"/>
<rect x="191" y="422" width="1" height="3" fill="#fff"/>
<rect x="193" y="422" width="1" height="3" fill="#fff"/>
<rect x="145" y="484" width="1" height="3" fill="#fff"/>
<rect x="147" y="484" width="1" height="3" fill="#fff"/>
<rect x="150" y="484" width="1" height="3" fill="#fff"/>
<rect x="166" y="484" width="1" height="3" fill="#fff"/>
<rect x="168" y="484" width="1" height="3" fill="#fff"/>
<rect x="179" y="484" width="1" height="3" fill="#fff"/>
<rect x="182" y="484" width="1" height="3" fill="#fff"/>
<rect x="184" y="484" width="1" height="3" fill="#fff"/>
<rect x="188" y="484" width="1" height="3" fill="#fff"/>
<rect x="134" y="429" width="3" height="1" fill="#fff"/>
<rect x="134" y="431" width="3" height="1" fill="#fff"/>
<rect x="134" y="433" width="3" height="1" fill="#fff"/>
<rect x="134" y="447" width="3" height="1" fill="#fff"/>
<rect x="134" y="450" width="3" height="1" fill="#fff"/>
<rect x="134" y="453" width="3" height="1" fill="#fff"/>
<rect x="134" y="464" width="3" height="1" fill="#fff"/>
<rect x="134" y="467" width="3" height="1" fill="#fff"/>
<rect x="134" y="470" width="3" height="1" fill="#fff"/>
<rect x="196" y="434" width="3" height="1" fill="#fff"/>
<rect x="196" y="437" width="3" height="1" fill="#fff"/>
<rect x="196" y="440" width="3" height="1" fill="#fff"/>
<rect x="196" y="453" width="3" height="1" fill="#fff"/>
<rect x="196" y="456" width="3" height="1" fill="#fff"/>
<rect x="196" y="459" width="3" height="1" fill="#fff"/>
<rect x="196" y="473" width="3" height="1" fill="#fff"/>
<rect x="196" y="476" width="3" height="1" fill="#fff"/>
<rect x="196" y="479" width="3" height="1" fill="#fff"/>
<rect x="243" y="427" width="58" height="3"/>
<rect x="243" y="490" width="58" height="3"/>
<rect x="239" y="433" width="3" height="54"/>
<rect x="302" y="433" width="3" height="54"/>
<rect x="242" y="430" width="60" height="60"/>
<rect x="248" y="427" width="1" height="3" fill="#fff"/>
<rect x="251" y="427" width="1" height="3" fill="#fff"/>
<rect x="265" y="427" width="1" height="3" fill="#fff"/>
<rect x="268" y="427" width="1" height="3" fill="#fff"/>
<rect x="280" y="427" width="1" height="3" fill="#fff"/>
<rect x="282" y="427" width="1" height="3" fill="#fff"/>
<rect x="284" y="427" width="1" height="3" fill="#fff"/>
<rect x="296" y="427" width="1" height="3" fill="#fff"/>
<rect x="298" y="427" width="1" height="3" fill="#fff"/>
<rect x="250" y="490" width="1" height="3" fill="#fff"/>
<rect x="252" y="490" width="1" height="3" fill="#fff"/>
<rect x="255" y="490" width="1" height="3" fill="#fff"/>
<rect x="271" y="490" width="1" height="3" fill="#fff"/>
<rect x="273" y="490" width="1" height="3" fill="#fff"/>
<rect x="284" y="490" width="1" height="3" fill="#fff"/>
<rect x="287" y="490" width="1" height="3" fill="#fff"/>
<rect x="289" y="490" width="1" height="3" fill="#fff"/>
<rect x="293" y="490" width="1" height="3" fill="#fff"/>
<rect x="239" y="434" width="3" height="1" fill="#fff"/>
<rect x="239" y="436" width="3" height="1" fill="#fff"/>
<rect x="239" y="438" width="3" height="1" fill="#fff"/>
<rect x="239" y="452" width="3" height="1" fill="#fff"/>
<rect x="239" y="455" width="3" height="1" fill="#fff"/>
<rect x="239" y="458" width="3" height="1" fill="#fff"/>
<rect x="239" y="469" width="3" height="1" fill="#fff"/>
<rect x="239" y="472" width="3" height="1" fill="#fff"/>
<rect x="239" y="475" width="3" height="1" fill="#fff"/>
<rect x="302" y="439" width="3" height="1" fill="#fff"/>
<rect x="302" y="442" width="3" height="1" fill="#fff"/>
<rect x="302" y="445" width="3" height="1" fill="#fff"/>
<rect x="302" y="458" width="3" height="1" fill="#fff"/>
<rect x="302" y="461" width="3" height="1" fill="#fff"/>
<rect x="302" y="464" width="3" height="1" fill="#fff"/>
<rect x="302" y="478" width="3" height="1" fill="#fff"/>
<rect x="302" y="481" width="3" height="1" fill="#fff"/>
<rect x="302" y="484" width="3" height="1" fill="#fff"/>
<rect x="379" y="443" width="57" height="3"/>
<rect x="379" y="506" width="57" height="3"/>
<rect x="375" y="449" width="3" height="54"/>
<rect x="437" y="449" width="3" height="54"/>
<rect x="378" y="446" width="59" height="60"/>
<rect x="384" y="443" width="1" height="3" fill="#fff"/>
<rect x="387" y="443" width="1" height="3" fill="#fff"/>
<rect x="401" y="443" width="1" height="3" fill="#fff"/>
<rect x="404" y="443" width="1" height="3" fill="#fff"/>
<rect x="416" y="443" width="1" height="3" fill="#fff"/>
<rect x="418" y="443" width="1" height="3" fill="#fff"/>
<rect x="420" y="443" width="1" height="3" fill="#fff"/>
<rect x="432" y="443" width="1" height="3" fill="#fff"/>
<rect x="434" y="443" width="1" height="3" fill="#fff"/>
<rect x="386" y="506" width="1" height="3" fill="#fff"/>
<rect x="388" y="506" width="1" height="3" fill="#fff"/>
<rect x="391" y="506" width="1" height="3" fill="#fff"/>
<rect x="407" y="506" width="1" height="3" fill="#fff"/>
<rect x="409" y="506" width="1" height="3" fill="#fff"/>
<rect x="420" y="506" width="1" height="3" fill="#fff"/>
<rect x="423" y="506" width="1" height="3" fill="#fff"/>
<rect x="425" y="506" width="1" height="3" fill="#fff"/>
<rect x="429" y="506" width="1" height="3" fill="#fff"/>
<rect x="375" y="450" width="3" height="1" fill="#fff"/>
<rect x="375" y="452" width="3" height="1" fill="#fff"/>
<rect x="375" y="454" width="3" height="1" fill="#fff"/>
<rect x="375" y="468" width="3" height="1" fill="#fff"/>
<rect x="375" y="471" width="3" height="1" fill="#fff"/>
<rect x="375" y="474" width="3" height="1" fill="#fff"/>
<rect x="375" y="485" width="3" height="1" fill="#fff"/>
<rect x="375" y="488" width="3" height="1" fill="#fff"/>
<rect x="375" y="491" width="3" height="1" fill="#fff"/>
<rect x="437" y="455" width="3" height="1" fill="#fff"/>
<rect x="437" y="458" width="3" height="1" fill="#fff"/>
<rect x="437" y="461" width="3" height="1" fill="#fff"/>
<rect x="437" y="474" width="3" height="1" fill="#fff"/>
<rect x="437" y="477" width="3" height="1" fill="#fff"/>
<rect x="437" y="480" width="3" height="1" fill="#fff"/>
<rect x="437" y="494" width="3" height="1" fill="#fff"/>
<rect x="437" y="497" width="3" height="1" fill="#fff"/>
<rect x="437" y="500" width="3" height="1" fill="#fff"/>
<rect x="756" y="417" width="29" height="37"/>
<rect x="780" y="412" width="5" height="48"/>
<rect x="783" y="410" width="2" height="52"/>
<rect x="753" y="423" width="3" height="25"/>
<rect x="754" y="424" width="1" height="1" fill="#fff"/>
<rect x="754" y="426" width="1" height="1" fill="#fff"/>
<rect x="754" y="428" width="1" height="1" fill="#fff"/>
<rect x="754" y="430" width="1" height="1" fill="#fff"/>
<rect x="754" y="432" width="1" height="1" fill="#fff"/>
<rect x="754" y="434" width="1" height="1" fill="#fff"/>
<rect x="754" y="436" width="1" height="1" fill="#fff"/>
<rect x="754" y="438" width="1" height="1" fill="#fff"/>
<rect x="754" y="440" width="1" height="1" fill="#fff"/>
<rect x="754" y="442" width="1" height="1" fill="#fff"/>
<rect x="754" y="444" width="1" height="1" fill="#fff"/>
<rect x="754" y="446" width="1" height="1" fill="#fff"/>
<rect x="753" y="433" width="3" height="5" fill="#fff"/>
<rect x="749" y="425" width="5" height="9"/>
<rect x="750" y="426" width="3" height="7" fill="#fff"/>
<rect x="749" y="437" width="5" height="9"/>
<rect x="750" y="438" width="3" height="7" fill="#fff"/>
<rect x="599" y="489" width="112" height="1"/>
<rect x="599" y="512" width="112" height="1"/>
<rect x="599" y="489" width="1" height="24"/>
<rect x="710" y="489" width="1" height="24"/>
<rect x="600" y="496" width="110" height="1"/>
<rect x="602" y="492" width="4" height="1"/>
<rect x="600" y="493" width="8" height="2"/>
<rect x="602" y="495" width="4" height="1"/>
<rect x="600" y="499" width="7" height="3"/>
<rect x="601" y="500" width="1" height="1" fill="#fff"/>
<rect x="603" y="500" width="1" height="1" fill="#fff"/>
<rect x="605" y="500" width="1" height="1" fill="#fff"/>
<rect x="612" y="492" width="4" height="1"/>
<rect x="610" y="493" width="8" height="2"/>
<rect x="612" y="495" width="4" height="1"/>
<rect x="610" y="499" width="7" height="3"/>
<rect x="611" y="500" width="1" height="1" fill="#fff"/>
<rect x="613" y="500" width="1" height="1" fill="#fff"/>
<rect x="615" y="500" width="1" height="1" fill="#fff"/>
<rect x="621" y="492" width="4" height="1"/>
<rect x="619" y="493" width="8" height="2"/>
<rect x="621" y="495" width="4" height="1"/>
<rect x="619" y="499" width="7" height="3"/>
<rect x="620" y="500" width="1" height="1" fill="#fff"/>
<rect x="622" y="500" width="1" height="1" fill="#fff"/>
<rect x="624" y="500" width="1" height="1" fill="#fff"/>
<rect x="630" y="492" width="4" height="1"/>
<rect x="628" y="493" width="8" height="2"/>
<rect x="630" y="495" width="4" height="1"/>
<rect x="628" y="499" width="7" height="3"/>
<rect x="629" y="500" width="1" height="1" fill="#fff"/>
<rect x="631" y="500" width="1" height="1" fill="#fff"/>
<rect x="633" y="500" width="1" height="1" fill="#fff"/>
<rect x="639" y="492" width="4" height="1"/>
<rect x="637" y="493" width="8" height="2"/>
<rect x="639" y="495" width="4" height="1"/>
<rect x="637" y="499" width="7" height="3"/>
<rect x="638" y="500" width="1" height="1" fill="#fff"/>
<rect x="640" y="500" width="1" height="1" fill="#fff"/>
<rect x="642" y="500" width="1" height="1" fill="#fff"/>
<rect x="648" y="492" width="4" height="1"/>
<rect x="646" y="493" width="8" height="2"/>
<rect x="648" y="495" width="4" height="1"/>
<rect x="646" y="499" width="7" height="3"/>
<rect x="647" y="500" width="1" height="1" fill="#fff"/>
<rect x="649" y="500" width="1" height="1" fill="#fff"/>
<rect x="651" y="500" width="1" height="1" fill="#fff"/>
<rect x="658" y="492" width="4" height="1"/>
<rect x="656" y="493" width="8" height="2"/>
<rect x="658" y="495" width="4" height="1"/>
<rect x="656" y="499" width="7" height="3"/>
<rect x="657" y="500" width="1" height="1" fill="#fff"/>
<rect x="659" y="500" width="1" height="1" fill="#fff"/>
<rect x="661" y="500" width="1" height="1" fill="#fff"/>
<rect x="667" y="492" width="4" height="1"/>
<rect x="665" y="493" width="8" height="2"/>
<rect x="667" y="495" width="4" height="1"/>
<rect x="665" y="499" width="7" height="3"/>
<rect x="666" y="500" width="1" height="1" fill="#fff"/>
<rect x="668" y="500" width="1" height="1" fill="#fff"/>
<rect x="670" y="500" width="1" height="1" fill="#fff"/>
<rect x="676" y="492" width="4" height="1"/>
<rect x="674" y="493" width="8" height="2"/>
<rect x="676" y="495" width="4" height="1"/>
<rect x="674" y="499" width="7" height="3"/>
<rect x="675" y="500" width="1" height="1" fill="#fff"/>
<rect x="677" y="500" width="1" height="1" fill="#fff"/>
<rect x="679" y="500" width="1" height="1" fill="#fff"/>
<rect x="685" y="492" width="4" height="1"/>
<rect x="683" y="493" width="8" height="2"/>
<rect x="685" y="495" width="4" height="1"/>
<rect x="683" y="499" width="7" height="3"/>
<rect x="684" y="500" width="1" height="1" fill="#fff"/>
<rect x="686" y="500" width="1" height="1" fill="#fff"/>
<rect x="688" y="500" width="1" height="1" fill="#fff"/>
<rect x="694" y="492" width="4" height="1"/>
<rect x="692" y="493" width="8" height="2"/>
<rect x="694" y="495" width="4" height="1"/>
<rect x="692" y="499" width="7" height="3"/>
<rect x="693" y="500" width="1" height="1" fill="#fff"/>
<rect x="695" y="500" width="1" height="1" fill="#fff"/>
<rect x="697" y="500" width="1" height="1" fill="#fff"/>
<rect x="704" y="492" width="4" height="1"/>
<rect x="702" y="493" width="8" height="2"/>
<rect x="704" y="495" width="4" height="1"/>
<rect x="702" y="499" width="7" height="3"/>
<rect x="703" y="500" width="1" height="1" fill="#fff"/>
<rect x="705" y="500" width="1" height="1" fill="#fff"/>
<rect x="707" y="500" width="1" height="1" fill="#fff"/>
<rect x="604" y="503" width="8" height="7"/>
<rect x="605" y="504" width="6" height="5" fill="#fff"/>
<rect x="613" y="503" width="8" height="7"/>
<rect x="614" y="504" width="6" height="5" fill="#fff"/>
<rect x="623" y="503" width="8" height="7"/>
<rect x="624" y="504" width="6" height="5" fill="#fff"/>
<rect x="632" y="503" width="8" height="7"/>
<rect x="633" y="504" width="6" height="5" fill="#fff"/>
<rect x="642" y="503" width="8" height="7"/>
<rect x="643" y="504" width="6" height="5" fill="#fff"/>
<rect x="651" y="503" width="8" height="7"/>
<rect x="652" y="504" width="6" height="5" fill="#fff"/>
<rect x="661" y="503" width="8" height="7"/>
<rect x="662" y="504" width="6" height="5" fill="#fff"/>
<rect x="670" y="503" width="8" height="7"/>
<rect x="671" y="504" width="6" height="5" fill="#fff"/>
<rect x="680" y="503" width="8" height="7"/>
<rect x="681" y="504" width="6" height="5" fill="#fff"/>
<rect x="689" y="503" width="8" height="7"/>
<rect x="690" y="504" width="6" height="5" fill="#fff"/>
<rect x="698" y="503" width="8" height="7"/>
<rect x="699" y="504" width="6" height="5" fill="#fff"/>
<rect x="600" y="503" width="3" height="7"/>
<rect x="707" y="503" width="3" height="7"/>
</svg>
</body></html>
